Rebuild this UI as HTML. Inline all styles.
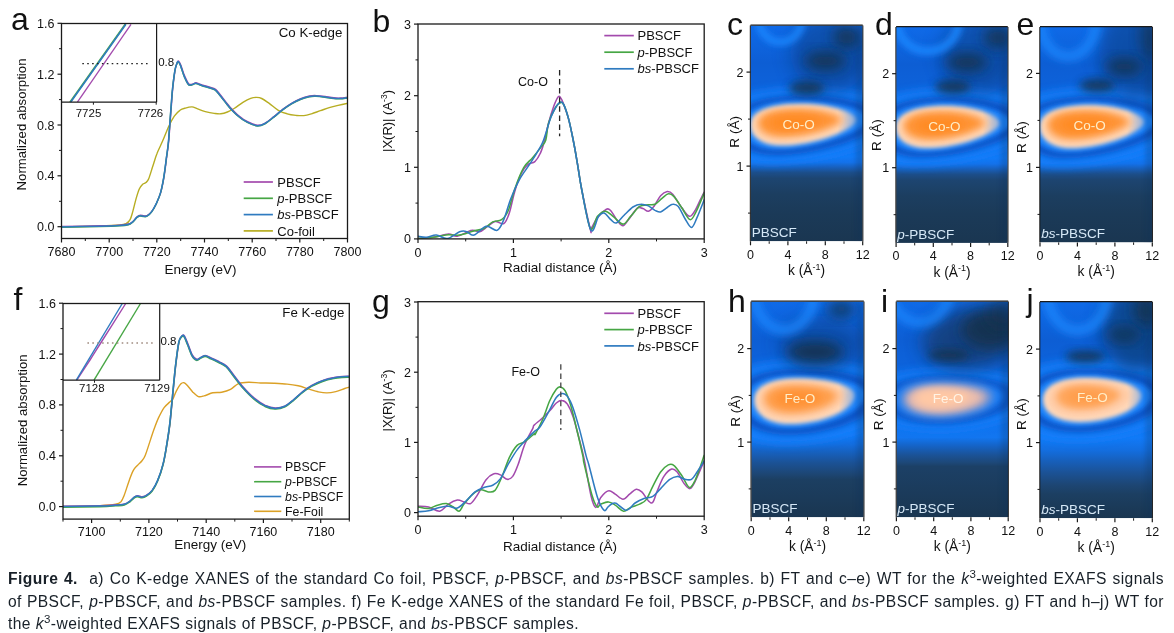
<!DOCTYPE html>
<html><head><meta charset="utf-8"><title>Figure 4</title>
<style>
html,body{margin:0;padding:0;background:#fff;}
body{width:1174px;height:633px;overflow:hidden;position:relative;font-family:"Liberation Sans",sans-serif;}
svg{position:absolute;left:0;top:0;}
svg text{font-family:"Liberation Sans",sans-serif;}
.cap{position:absolute;left:8px;width:1156px;color:#182028;font-size:15.6px;line-height:20px;white-space:nowrap;letter-spacing:0.43px;}
.cap b{font-weight:bold;}
.cap sup{font-size:11.5px;vertical-align:baseline;position:relative;top:-6.3px;line-height:0;}
.just{text-align:justify;text-align-last:justify;white-space:normal;}

</style></head><body>
<svg width="1174" height="633" viewBox="0 0 1174 633">
<defs>
<filter id="bl1" x="-50%" y="-50%" width="200%" height="200%"><feGaussianBlur stdDeviation="1.2"/></filter>
<filter id="bl2" x="-50%" y="-50%" width="200%" height="200%"><feGaussianBlur stdDeviation="2.2"/></filter>
<filter id="bl3" x="-50%" y="-50%" width="200%" height="200%"><feGaussianBlur stdDeviation="3.2"/></filter>
<filter id="bl4" x="-50%" y="-50%" width="200%" height="200%"><feGaussianBlur stdDeviation="4.5"/></filter>
<filter id="bl6" x="-50%" y="-50%" width="200%" height="200%"><feGaussianBlur stdDeviation="6.5"/></filter>
<filter id="bl9" x="-50%" y="-50%" width="200%" height="200%"><feGaussianBlur stdDeviation="9"/></filter>

</defs>
<clipPath id="ca"><rect x="61.5" y="23.5" width="286.0" height="215.0"/></clipPath>
<g clip-path="url(#ca)">
<path d="M61.5,226.9C67.8,226.8 89.9,226.4 99.6,226.1C109.2,225.7 115.0,225.4 119.5,225.0C123.9,224.6 124.3,224.5 126.1,223.6C127.9,222.7 129.0,221.6 130.1,219.6C131.2,217.7 131.7,215.4 132.7,211.9C133.7,208.4 135.0,202.5 136.1,198.6C137.2,194.8 138.3,191.1 139.4,188.7C140.5,186.3 141.6,185.3 142.7,184.2C143.8,183.2 145.0,183.4 146.0,182.5C147.0,181.6 147.6,181.4 148.7,178.7C149.8,176.1 151.3,170.8 152.7,166.5C154.1,162.3 155.4,157.5 157.1,153.3C158.7,149.0 160.7,145.6 162.6,141.1C164.6,136.6 166.9,130.3 168.8,126.2C170.8,122.1 172.5,118.9 174.3,116.2C176.2,113.6 178.0,111.6 179.9,110.3C181.7,108.9 183.4,108.6 185.4,108.1C187.4,107.5 190.0,106.8 192.0,106.9C194.1,107.1 195.4,108.2 197.6,108.9C199.8,109.7 202.5,110.9 205.3,111.6C208.1,112.3 211.6,113.0 214.2,113.4C216.7,113.7 218.6,114.0 220.8,113.8C223.0,113.6 225.2,112.9 227.4,112.0C229.6,111.2 231.5,110.1 234.1,108.5C236.7,106.9 240.2,104.0 242.9,102.3C245.7,100.6 248.5,99.1 250.7,98.3C252.9,97.5 254.4,97.4 256.2,97.4C258.0,97.5 259.5,97.5 261.7,98.5C263.9,99.6 266.7,101.7 269.5,103.6C272.2,105.6 275.4,108.6 278.3,110.3C281.3,112.0 284.2,113.0 287.2,113.8C290.1,114.7 293.3,115.1 296.0,115.4C298.8,115.6 301.2,115.8 303.8,115.6C306.3,115.3 308.7,114.6 311.5,113.8C314.3,113.0 317.4,111.7 320.4,110.7C323.3,109.7 326.3,108.5 329.2,107.6C332.2,106.7 334.9,106.1 338.1,105.4C341.2,104.7 346.3,103.6 348.0,103.2" fill="none" stroke="#b7ad22" stroke-width="1.4" stroke-linejoin="round" stroke-linecap="round" />
<path d="M61.8,226.4C68.1,226.3 90.2,226.0 99.9,225.8C109.5,225.6 115.0,225.4 119.8,225.1C124.6,224.8 126.4,224.6 128.6,224.0C130.8,223.4 131.6,222.5 133.0,221.4C134.4,220.2 135.8,218.0 137.0,216.9C138.2,215.9 138.9,215.3 140.1,215.2C141.3,215.0 142.9,215.8 144.1,215.8C145.3,215.9 146.1,216.1 147.4,215.4C148.7,214.6 150.4,213.4 151.8,211.4C153.3,209.4 154.8,206.8 156.3,203.7C157.7,200.5 159.4,197.0 160.7,192.6C162.0,188.2 163.0,183.0 164.0,177.1C165.0,171.2 165.9,163.5 166.7,157.2C167.5,150.9 167.9,150.3 168.9,139.5C169.8,128.7 171.4,104.0 172.4,92.5C173.5,81.0 174.3,75.4 175.1,70.4C175.9,65.4 176.7,64.2 177.3,62.6C177.9,61.1 178.0,60.7 178.6,61.1C179.2,61.5 179.8,62.4 180.8,64.9C181.8,67.3 183.2,72.7 184.6,75.9C186.0,79.1 187.5,82.8 189.0,84.1C190.5,85.4 192.3,83.9 193.4,83.7C194.6,83.4 194.6,82.6 196.1,82.8C197.6,83.0 200.0,84.2 202.3,85.0C204.6,85.7 207.8,86.5 210.0,87.2C212.2,87.9 213.7,88.0 215.6,89.4C217.4,90.8 218.7,92.9 221.1,95.8C223.5,98.7 227.0,103.6 229.9,106.9C232.9,110.2 235.8,113.3 238.8,115.7C241.7,118.2 244.5,120.1 247.6,121.7C250.8,123.3 254.7,125.0 257.6,125.3C260.6,125.5 262.6,124.5 265.3,123.0C268.1,121.6 271.2,118.7 274.2,116.4C277.1,114.1 280.1,111.3 283.0,109.1C286.0,106.9 288.9,104.9 291.9,103.1C294.8,101.4 297.8,99.9 300.7,98.7C303.7,97.5 307.0,96.6 309.6,96.0C312.2,95.5 313.6,95.5 316.2,95.6C318.8,95.7 322.1,96.1 325.1,96.5C328.0,96.9 331.3,97.6 333.9,97.8C336.5,98.1 338.2,98.2 340.6,98.0C343.0,97.9 347.0,97.3 348.3,97.2" fill="none" stroke="#a34aad" stroke-width="1.4" stroke-linejoin="round" stroke-linecap="round" />
<path d="M61.5,227.2C67.8,227.1 89.9,226.8 99.6,226.6C109.2,226.4 114.7,226.2 119.5,225.9C124.3,225.6 126.1,225.4 128.3,224.8C130.5,224.2 131.3,223.3 132.7,222.2C134.1,221.0 135.5,218.8 136.7,217.7C137.9,216.7 138.6,216.1 139.8,216.0C141.0,215.8 142.6,216.6 143.8,216.6C145.0,216.7 145.8,216.9 147.1,216.2C148.4,215.4 150.1,214.2 151.5,212.2C153.0,210.2 154.5,207.6 156.0,204.5C157.4,201.3 159.1,197.8 160.4,193.4C161.7,189.0 162.7,183.8 163.7,177.9C164.7,172.0 165.6,164.3 166.4,158.0C167.2,151.7 167.6,151.1 168.6,140.3C169.5,129.5 171.1,104.8 172.1,93.3C173.2,81.8 174.0,76.2 174.8,71.2C175.6,66.2 176.4,65.0 177.0,63.4C177.6,61.9 177.7,61.5 178.3,61.9C178.9,62.3 179.5,63.2 180.5,65.7C181.5,68.1 182.9,73.5 184.3,76.7C185.7,79.9 187.2,83.6 188.7,84.9C190.2,86.2 192.0,84.7 193.1,84.5C194.3,84.2 194.3,83.4 195.8,83.6C197.3,83.8 199.7,85.0 202.0,85.8C204.3,86.5 207.5,87.3 209.7,88.0C211.9,88.7 213.4,88.8 215.3,90.2C217.1,91.6 218.4,93.7 220.8,96.6C223.2,99.5 226.7,104.4 229.6,107.7C232.6,111.0 235.5,114.1 238.5,116.5C241.4,119.0 244.2,120.9 247.3,122.5C250.5,124.1 254.4,125.8 257.3,126.1C260.3,126.3 262.3,125.3 265.0,123.8C267.8,122.4 270.9,119.5 273.9,117.2C276.8,114.9 279.8,112.1 282.7,109.9C285.7,107.7 288.6,105.7 291.6,103.9C294.5,102.2 297.5,100.7 300.4,99.5C303.4,98.3 306.7,97.4 309.3,96.8C311.9,96.3 313.3,96.3 315.9,96.4C318.5,96.5 321.8,96.9 324.8,97.3C327.7,97.7 331.0,98.4 333.6,98.6C336.2,98.9 337.9,99.0 340.3,98.8C342.7,98.7 346.7,98.1 348.0,98.0" fill="none" stroke="#46a644" stroke-width="1.4" stroke-linejoin="round" stroke-linecap="round" />
<path d="M61.5,226.9C67.8,226.8 89.9,226.5 99.6,226.3C109.2,226.1 114.7,225.9 119.5,225.6C124.3,225.3 126.1,225.1 128.3,224.5C130.5,223.9 131.3,223.0 132.7,221.9C134.1,220.7 135.5,218.5 136.7,217.4C137.9,216.4 138.6,215.8 139.8,215.7C141.0,215.5 142.6,216.3 143.8,216.3C145.0,216.4 145.8,216.6 147.1,215.9C148.4,215.1 150.1,213.9 151.5,211.9C153.0,209.9 154.5,207.3 156.0,204.2C157.4,201.0 159.1,197.5 160.4,193.1C161.7,188.7 162.7,183.5 163.7,177.6C164.7,171.7 165.6,164.0 166.4,157.7C167.2,151.4 167.6,150.8 168.6,140.0C169.5,129.2 171.1,104.5 172.1,93.0C173.2,81.5 174.0,75.9 174.8,70.9C175.6,65.9 176.4,64.7 177.0,63.1C177.6,61.6 177.7,61.2 178.3,61.6C178.9,62.0 179.5,62.9 180.5,65.4C181.5,67.8 182.9,73.2 184.3,76.4C185.7,79.6 187.2,83.3 188.7,84.6C190.2,85.9 192.0,84.4 193.1,84.2C194.3,83.9 194.3,83.1 195.8,83.3C197.3,83.5 199.7,84.7 202.0,85.5C204.3,86.2 207.5,87.0 209.7,87.7C211.9,88.4 213.4,88.5 215.3,89.9C217.1,91.3 218.4,93.4 220.8,96.3C223.2,99.2 226.7,104.1 229.6,107.4C232.6,110.7 235.5,113.8 238.5,116.2C241.4,118.7 244.2,120.6 247.3,122.2C250.5,123.8 254.4,125.5 257.3,125.8C260.3,126.0 262.3,125.0 265.0,123.5C267.8,122.1 270.9,119.2 273.9,116.9C276.8,114.6 279.8,111.8 282.7,109.6C285.7,107.4 288.6,105.4 291.6,103.6C294.5,101.9 297.5,100.4 300.4,99.2C303.4,98.0 306.7,97.1 309.3,96.5C311.9,96.0 313.3,96.0 315.9,96.1C318.5,96.2 321.8,96.6 324.8,97.0C327.7,97.4 331.0,98.1 333.6,98.3C336.2,98.6 337.9,98.7 340.3,98.5C342.7,98.4 346.7,97.8 348.0,97.7" fill="none" stroke="#2f7bc0" stroke-width="1.5" stroke-linejoin="round" stroke-linecap="round" />
</g>
<clipPath id="cai"><rect x="61.5" y="23.5" width="95.1" height="78.7"/></clipPath>
<g clip-path="url(#cai)">
<line x1="77.4" y1="102.2" x2="131.0" y2="24.3" stroke="#a34aad" stroke-width="1.3" />
<line x1="70.0" y1="102.2" x2="125.3" y2="24.3" stroke="#46a644" stroke-width="1.8" />
<line x1="70.6" y1="102.2" x2="125.9" y2="24.3" stroke="#2f7bc0" stroke-width="1.6" />
</g>
<line x1="82.3" y1="63.7" x2="150.8" y2="63.7" stroke="#222" stroke-width="1.2" stroke-dasharray="1.6 3.3"/>
<line x1="156.6" y1="23.5" x2="156.6" y2="102.2" stroke="#1a1a1a" stroke-width="1.2" />
<line x1="61.5" y1="102.2" x2="156.6" y2="102.2" stroke="#1a1a1a" stroke-width="1.2" />
<line x1="93.4" y1="102.2" x2="93.4" y2="104.7" stroke="#1a1a1a" stroke-width="1.0" />
<line x1="156.2" y1="102.2" x2="156.2" y2="104.7" stroke="#1a1a1a" stroke-width="1.0" />
<text x="88.5" y="116.8" font-size="11.5" text-anchor="middle" fill="#111" >7725</text>
<text x="150.4" y="116.8" font-size="11.5" text-anchor="middle" fill="#111" >7726</text>
<text x="158.2" y="66.0" font-size="11.5" text-anchor="start" fill="#111" >0.8</text>
<rect x="61.5" y="23.5" width="286.0" height="215.0" fill="none" stroke="#1a1a1a" stroke-width="1.3"/>
<line x1="57.5" y1="226.7" x2="61.5" y2="226.7" stroke="#1a1a1a" stroke-width="1.2" />
<text x="54.5" y="231.2" font-size="12.5" text-anchor="end" fill="#111" >0.0</text>
<line x1="57.5" y1="175.8" x2="61.5" y2="175.8" stroke="#1a1a1a" stroke-width="1.2" />
<text x="54.5" y="180.3" font-size="12.5" text-anchor="end" fill="#111" >0.4</text>
<line x1="57.5" y1="125.0" x2="61.5" y2="125.0" stroke="#1a1a1a" stroke-width="1.2" />
<text x="54.5" y="129.5" font-size="12.5" text-anchor="end" fill="#111" >0.8</text>
<line x1="57.5" y1="74.2" x2="61.5" y2="74.2" stroke="#1a1a1a" stroke-width="1.2" />
<text x="54.5" y="78.7" font-size="12.5" text-anchor="end" fill="#111" >1.2</text>
<line x1="57.5" y1="23.3" x2="61.5" y2="23.3" stroke="#1a1a1a" stroke-width="1.2" />
<text x="54.5" y="27.8" font-size="12.5" text-anchor="end" fill="#111" >1.6</text>
<line x1="59.0" y1="201.3" x2="61.5" y2="201.3" stroke="#1a1a1a" stroke-width="1.0" />
<line x1="59.0" y1="150.4" x2="61.5" y2="150.4" stroke="#1a1a1a" stroke-width="1.0" />
<line x1="59.0" y1="99.6" x2="61.5" y2="99.6" stroke="#1a1a1a" stroke-width="1.0" />
<line x1="59.0" y1="48.7" x2="61.5" y2="48.7" stroke="#1a1a1a" stroke-width="1.0" />
<line x1="61.5" y1="238.5" x2="61.5" y2="242.5" stroke="#1a1a1a" stroke-width="1.2" />
<text x="61.5" y="256.3" font-size="12.5" text-anchor="middle" fill="#111" >7680</text>
<line x1="109.2" y1="238.5" x2="109.2" y2="242.5" stroke="#1a1a1a" stroke-width="1.2" />
<text x="109.2" y="256.3" font-size="12.5" text-anchor="middle" fill="#111" >7700</text>
<line x1="156.8" y1="238.5" x2="156.8" y2="242.5" stroke="#1a1a1a" stroke-width="1.2" />
<text x="156.8" y="256.3" font-size="12.5" text-anchor="middle" fill="#111" >7720</text>
<line x1="204.5" y1="238.5" x2="204.5" y2="242.5" stroke="#1a1a1a" stroke-width="1.2" />
<text x="204.5" y="256.3" font-size="12.5" text-anchor="middle" fill="#111" >7740</text>
<line x1="252.2" y1="238.5" x2="252.2" y2="242.5" stroke="#1a1a1a" stroke-width="1.2" />
<text x="252.2" y="256.3" font-size="12.5" text-anchor="middle" fill="#111" >7760</text>
<line x1="299.8" y1="238.5" x2="299.8" y2="242.5" stroke="#1a1a1a" stroke-width="1.2" />
<text x="299.8" y="256.3" font-size="12.5" text-anchor="middle" fill="#111" >7780</text>
<line x1="347.5" y1="238.5" x2="347.5" y2="242.5" stroke="#1a1a1a" stroke-width="1.2" />
<text x="347.5" y="256.3" font-size="12.5" text-anchor="middle" fill="#111" >7800</text>
<line x1="85.3" y1="238.5" x2="85.3" y2="241.0" stroke="#1a1a1a" stroke-width="1.0" />
<line x1="133.0" y1="238.5" x2="133.0" y2="241.0" stroke="#1a1a1a" stroke-width="1.0" />
<line x1="180.7" y1="238.5" x2="180.7" y2="241.0" stroke="#1a1a1a" stroke-width="1.0" />
<line x1="228.3" y1="238.5" x2="228.3" y2="241.0" stroke="#1a1a1a" stroke-width="1.0" />
<line x1="276.0" y1="238.5" x2="276.0" y2="241.0" stroke="#1a1a1a" stroke-width="1.0" />
<line x1="323.7" y1="238.5" x2="323.7" y2="241.0" stroke="#1a1a1a" stroke-width="1.0" />
<text x="200.5" y="273.8" font-size="13.5" text-anchor="middle" fill="#111" >Energy (eV)</text>
<text transform="translate(25.5,124.5) rotate(-90)" font-size="13.2" text-anchor="middle" fill="#111">Normalized absorption</text>
<text x="342.3" y="36.8" font-size="13.3" text-anchor="end" fill="#111" >Co K-edge</text>
<text x="11.0" y="30.0" font-size="32" text-anchor="start" fill="#111" >a</text>
<line x1="243.7" y1="182.0" x2="272.9" y2="182.0" stroke="#a34aad" stroke-width="1.7" />
<text x="277.3" y="186.6" font-size="13" text-anchor="start" fill="#111" >PBSCF</text>
<line x1="243.7" y1="198.3" x2="272.9" y2="198.3" stroke="#46a644" stroke-width="1.7" />
<text x="277.3" y="202.9" font-size="13" text-anchor="start" fill="#111" ><tspan font-style="italic">p</tspan>-PBSCF</text>
<line x1="243.7" y1="214.6" x2="272.9" y2="214.6" stroke="#2f7bc0" stroke-width="1.7" />
<text x="277.3" y="219.2" font-size="13" text-anchor="start" fill="#111" ><tspan font-style="italic">bs</tspan>-PBSCF</text>
<line x1="243.7" y1="230.9" x2="272.9" y2="230.9" stroke="#b7ad22" stroke-width="1.7" />
<text x="277.3" y="235.5" font-size="13" text-anchor="start" fill="#111" >Co-foil</text>
<clipPath id="cb"><rect x="418" y="24" width="286.20000000000005" height="214.9"/></clipPath>
<g clip-path="url(#cb)">
<path d="M418.0,238.5C420.5,238.3 427.9,238.1 433.0,237.3C438.1,236.6 444.4,234.2 448.5,234.0C452.6,233.8 453.5,236.9 457.3,236.2C461.2,235.6 468.0,231.0 471.7,230.3C475.4,229.5 476.9,232.4 479.5,231.8C482.1,231.2 484.6,228.5 487.2,226.7C489.8,225.0 492.2,221.9 495.0,221.4C497.7,220.9 501.4,225.0 503.8,223.6C506.2,222.2 507.5,218.5 509.3,213.0C511.2,207.6 512.8,197.5 514.9,190.9C516.9,184.2 519.3,177.6 521.5,173.2C523.7,168.8 525.9,166.3 528.1,164.3C530.4,162.4 532.8,163.5 534.8,161.7C536.8,159.8 538.7,156.9 540.3,153.3C542.0,149.7 543.4,145.0 544.7,140.0C546.1,135.0 547.0,128.8 548.6,123.0C550.1,117.2 552.5,109.7 554.1,105.3C555.8,100.9 557.3,97.5 558.5,96.5C559.8,95.4 560.4,97.5 561.4,99.1C562.4,100.8 563.3,103.2 564.5,106.4C565.7,109.7 567.1,113.2 568.5,118.6C569.9,123.9 571.4,131.1 572.9,138.5C574.4,145.9 575.9,154.2 577.3,162.8C578.8,171.4 579.6,178.9 581.8,190.0C584.0,201.2 588.8,223.2 590.4,229.6C592.0,236.0 590.1,230.5 591.3,228.5C592.5,226.5 595.0,220.6 597.5,217.4C600.0,214.2 604.2,210.4 606.4,209.2C608.6,208.1 609.0,208.9 610.8,210.8C612.6,212.7 615.4,218.2 617.4,220.8C619.5,223.3 621.1,226.0 623.0,225.8C624.8,225.7 626.1,222.6 628.5,219.6C630.9,216.7 634.9,210.0 637.3,208.1C639.7,206.3 641.0,208.1 642.9,208.6C644.7,209.1 646.6,211.6 648.4,211.2C650.3,210.9 651.9,209.0 653.9,206.4C656.0,203.8 658.4,198.2 660.6,195.8C662.8,193.3 665.2,191.8 667.2,191.5C669.2,191.3 670.3,191.5 672.7,194.2C675.1,196.9 678.8,203.8 681.6,207.5C684.4,211.2 687.1,215.8 689.3,216.3C691.5,216.9 693.0,213.6 694.9,210.8C696.7,208.0 698.8,202.9 700.4,199.7C701.9,196.6 703.5,193.3 704.2,192.0" fill="none" stroke="#a34aad" stroke-width="1.55" stroke-linejoin="round" stroke-linecap="round" />
<path d="M418.0,238.5C420.8,238.2 430.1,237.5 435.2,236.9C440.3,236.3 444.4,235.0 448.5,234.7C452.6,234.4 455.5,235.7 459.6,235.1C463.6,234.5 468.8,232.3 472.8,231.2C476.9,230.0 480.6,230.0 483.9,228.5C487.2,226.9 489.8,223.3 492.7,221.9C495.7,220.4 499.0,221.5 501.6,219.6C504.2,217.8 506.0,216.0 508.2,210.8C510.4,205.6 512.3,195.9 514.9,188.7C517.4,181.5 520.8,172.8 523.7,167.7C526.7,162.5 529.6,161.2 532.6,157.7C535.5,154.2 539.2,149.6 541.4,146.6C543.6,143.7 544.6,143.9 545.8,140.0C547.0,136.1 547.0,128.3 548.6,123.0C550.1,117.7 553.2,111.4 555.2,108.0C557.2,104.5 559.3,102.9 560.8,102.4C562.2,102.0 562.8,102.6 564.1,105.3C565.4,108.0 567.0,113.1 568.5,118.6C570.0,124.1 571.4,131.1 572.9,138.5C574.4,145.9 575.9,154.2 577.3,162.8C578.8,171.4 579.6,179.1 581.8,190.0C584.0,201.0 587.8,224.1 590.4,228.5C593.1,232.9 595.1,219.2 597.5,216.3C600.0,213.5 602.7,211.2 605.3,211.2C607.8,211.2 610.1,214.2 613.0,216.3C616.0,218.5 620.0,224.1 623.0,224.1C625.9,224.1 627.9,219.3 630.7,216.3C633.5,213.4 636.6,208.3 639.6,206.4C642.5,204.5 645.8,205.2 648.4,204.8C651.0,204.5 652.8,205.2 655.0,204.2C657.3,203.1 659.5,200.4 661.7,198.6C663.9,196.9 666.3,194.1 668.3,193.8C670.3,193.4 671.6,194.1 673.8,196.4C676.1,198.7 678.9,203.6 681.6,207.5C684.3,211.3 687.6,218.9 690.0,219.6C692.4,220.4 693.6,216.3 696.0,211.9C698.3,207.5 702.8,196.2 704.2,193.1" fill="none" stroke="#46a644" stroke-width="1.55" stroke-linejoin="round" stroke-linecap="round" />
<path d="M418.0,236.2C419.4,236.4 423.3,237.5 426.4,237.3C429.4,237.2 432.8,234.9 436.3,235.1C439.8,235.3 443.5,239.0 447.4,238.5C451.3,237.9 456.4,233.0 459.6,231.8C462.7,230.6 463.8,230.8 466.2,231.4C468.6,231.9 470.6,236.0 473.9,235.1C477.3,234.3 482.2,227.1 486.1,226.3C490.0,225.5 494.2,231.4 497.2,230.3C500.1,229.2 501.6,224.7 503.8,219.6C506.0,214.6 507.9,206.4 510.4,199.7C513.0,193.1 516.0,185.9 519.3,179.8C522.6,173.7 527.0,168.4 530.4,163.2C533.7,158.1 537.0,152.7 539.2,148.8C541.4,145.0 541.7,145.2 543.6,140.0C545.6,134.8 548.7,123.1 550.8,117.5C552.9,111.9 554.7,109.0 556.3,106.4C558.0,103.8 559.5,102.2 560.8,102.0C562.0,101.8 562.8,102.5 564.1,105.3C565.4,108.1 567.0,113.1 568.5,118.6C570.0,124.1 571.4,131.1 572.9,138.5C574.4,145.9 575.9,154.2 577.3,162.8C578.8,171.4 579.5,178.8 581.8,190.0C584.0,201.3 588.1,225.9 590.9,230.3C593.7,234.6 596.4,219.2 598.6,216.3C600.8,213.5 602.1,212.5 604.2,213.0C606.2,213.6 608.8,218.0 610.8,219.6C612.8,221.3 614.1,223.7 616.3,223.0C618.5,222.2 621.3,217.9 624.1,215.2C626.8,212.6 630.2,208.9 632.9,207.0C635.7,205.2 638.1,204.3 640.7,204.2C643.2,204.0 646.0,204.9 648.4,205.9C650.8,207.0 653.0,209.4 655.0,210.4C657.1,211.3 658.5,212.4 660.6,211.9C662.6,211.4 665.2,208.8 667.2,207.5C669.2,206.2 670.9,204.3 672.7,204.2C674.6,204.0 676.2,204.0 678.3,206.4C680.3,208.8 682.7,215.0 684.9,218.5C687.1,222.0 689.5,227.6 691.5,227.4C693.6,227.2 695.0,222.0 697.1,217.4C699.2,212.8 703.0,202.7 704.2,199.7" fill="none" stroke="#2f7bc0" stroke-width="1.55" stroke-linejoin="round" stroke-linecap="round" />
</g>
<line x1="559.6" y1="69.9" x2="559.6" y2="136.3" stroke="#222" stroke-width="1.3" stroke-dasharray="5.5 3.6"/>
<text x="518.0" y="85.8" font-size="12.5" text-anchor="start" fill="#111" >Co-O</text>
<rect x="418" y="24" width="286.20000000000005" height="214.9" fill="none" stroke="#1a1a1a" stroke-width="1.3"/>
<line x1="414.0" y1="238.9" x2="418.0" y2="238.9" stroke="#1a1a1a" stroke-width="1.2" />
<text x="411.0" y="243.4" font-size="12.5" text-anchor="end" fill="#111" >0</text>
<line x1="418.0" y1="238.9" x2="418.0" y2="242.9" stroke="#1a1a1a" stroke-width="1.2" />
<text x="418.0" y="257.0" font-size="12.5" text-anchor="middle" fill="#111" >0</text>
<line x1="414.0" y1="167.3" x2="418.0" y2="167.3" stroke="#1a1a1a" stroke-width="1.2" />
<text x="411.0" y="171.8" font-size="12.5" text-anchor="end" fill="#111" >1</text>
<line x1="513.4" y1="238.9" x2="513.4" y2="242.9" stroke="#1a1a1a" stroke-width="1.2" />
<text x="513.4" y="257.0" font-size="12.5" text-anchor="middle" fill="#111" >1</text>
<line x1="414.0" y1="95.7" x2="418.0" y2="95.7" stroke="#1a1a1a" stroke-width="1.2" />
<text x="411.0" y="100.2" font-size="12.5" text-anchor="end" fill="#111" >2</text>
<line x1="608.8" y1="238.9" x2="608.8" y2="242.9" stroke="#1a1a1a" stroke-width="1.2" />
<text x="608.8" y="257.0" font-size="12.5" text-anchor="middle" fill="#111" >2</text>
<line x1="414.0" y1="24.1" x2="418.0" y2="24.1" stroke="#1a1a1a" stroke-width="1.2" />
<text x="411.0" y="28.6" font-size="12.5" text-anchor="end" fill="#111" >3</text>
<line x1="704.2" y1="238.9" x2="704.2" y2="242.9" stroke="#1a1a1a" stroke-width="1.2" />
<text x="704.2" y="257.0" font-size="12.5" text-anchor="middle" fill="#111" >3</text>
<line x1="415.5" y1="203.1" x2="418.0" y2="203.1" stroke="#1a1a1a" stroke-width="1.0" />
<line x1="465.7" y1="238.9" x2="465.7" y2="241.4" stroke="#1a1a1a" stroke-width="1.0" />
<line x1="415.5" y1="131.5" x2="418.0" y2="131.5" stroke="#1a1a1a" stroke-width="1.0" />
<line x1="561.1" y1="238.9" x2="561.1" y2="241.4" stroke="#1a1a1a" stroke-width="1.0" />
<line x1="415.5" y1="59.9" x2="418.0" y2="59.9" stroke="#1a1a1a" stroke-width="1.0" />
<line x1="656.5" y1="238.9" x2="656.5" y2="241.4" stroke="#1a1a1a" stroke-width="1.0" />
<text x="560.0" y="272.2" font-size="13.5" text-anchor="middle" fill="#111" >Radial distance (Å)</text>
<text transform="translate(392,121) rotate(-90)" font-size="13" text-anchor="middle" fill="#111">|X(R)| (A<tspan font-size="8.5" dy="-5">-3</tspan><tspan dy="5">)</tspan></text>
<text x="372.5" y="32.0" font-size="32" text-anchor="start" fill="#111" >b</text>
<line x1="604.3" y1="35.6" x2="633.8" y2="35.6" stroke="#a34aad" stroke-width="1.7" />
<text x="637.5" y="40.2" font-size="13" text-anchor="start" fill="#111" >PBSCF</text>
<line x1="604.3" y1="52.2" x2="633.8" y2="52.2" stroke="#46a644" stroke-width="1.7" />
<text x="637.5" y="56.8" font-size="13" text-anchor="start" fill="#111" ><tspan font-style="italic">p</tspan>-PBSCF</text>
<line x1="604.3" y1="68.8" x2="633.8" y2="68.8" stroke="#2f7bc0" stroke-width="1.7" />
<text x="637.5" y="73.4" font-size="13" text-anchor="start" fill="#111" ><tspan font-style="italic">bs</tspan>-PBSCF</text>
<clipPath id="cf"><rect x="63" y="303.5" width="286.3" height="215.60000000000002"/></clipPath>
<g clip-path="url(#cf)">
<path d="M62.4,506.5C68.7,506.4 91.2,506.0 100.0,505.6C108.8,505.3 112.0,505.0 115.5,504.3C119.0,503.6 119.5,503.2 121.0,501.7C122.5,500.1 123.0,498.3 124.3,495.0C125.6,491.7 127.3,485.8 128.8,481.7C130.2,477.7 131.7,473.5 133.2,470.7C134.7,467.9 136.1,466.8 137.6,465.2C139.1,463.5 140.7,462.4 142.0,460.7C143.3,459.1 144.1,458.3 145.3,455.2C146.6,452.1 148.3,446.4 149.8,441.9C151.2,437.5 152.7,432.7 154.2,428.7C155.7,424.6 157.0,421.1 158.6,417.6C160.3,414.1 162.3,410.2 164.1,407.6C166.0,405.1 168.2,403.6 169.7,402.1C171.1,400.6 171.9,400.6 173.0,398.8C174.1,397.0 175.0,393.5 176.3,391.1C177.6,388.6 179.4,385.4 180.7,384.0C182.0,382.6 182.9,382.4 184.1,382.7C185.2,382.9 185.9,383.9 187.4,385.5C188.8,387.1 191.1,390.3 192.9,392.2C194.7,394.0 196.6,396.0 198.4,396.6C200.3,397.2 201.6,396.6 204.0,395.9C206.4,395.3 209.9,393.5 212.8,392.8C215.8,392.2 218.7,392.8 221.7,392.2C224.6,391.6 227.7,390.7 230.5,389.3C233.3,387.9 235.5,384.8 238.5,383.6C241.5,382.5 244.8,382.4 248.5,382.3C252.1,382.2 256.4,382.8 260.6,383.0C264.9,383.1 269.5,383.0 273.9,383.2C278.3,383.4 283.1,383.6 287.2,384.1C291.2,384.5 294.5,385.0 298.2,385.8C301.9,386.7 306.0,388.2 309.3,389.2C312.6,390.2 315.2,391.2 318.1,391.8C321.1,392.4 324.0,393.0 327.0,392.9C329.9,392.9 332.9,392.3 335.8,391.6C338.8,390.9 342.5,389.2 344.7,388.5C346.9,387.8 348.4,387.4 349.1,387.2" fill="none" stroke="#dba126" stroke-width="1.4" stroke-linejoin="round" stroke-linecap="round" />
<path d="M62.7,506.1C69.0,506.0 91.5,505.9 100.3,505.7C109.1,505.5 111.7,505.1 115.8,504.8C119.8,504.5 122.2,504.6 124.6,503.9C127.0,503.2 128.5,502.0 130.2,500.8C131.8,499.6 133.3,497.7 134.6,496.8C135.9,496.0 136.6,495.7 137.9,495.7C139.2,495.7 140.9,496.9 142.3,496.8C143.8,496.7 145.1,496.2 146.7,495.1C148.4,494.0 150.4,492.7 152.3,490.2C154.1,487.7 156.0,484.7 157.8,480.2C159.7,475.8 161.9,469.4 163.3,463.7C164.8,457.9 165.6,452.6 166.7,446.0C167.8,439.3 169.1,431.2 170.0,423.8C170.9,416.5 171.2,411.4 172.2,401.7C173.1,392.1 174.6,376.0 175.7,366.0C176.9,356.0 178.0,346.7 179.1,341.6C180.2,336.5 181.5,336.4 182.4,335.4C183.3,334.5 183.7,334.7 184.6,336.1C185.5,337.5 186.6,340.7 187.9,343.8C189.2,347.0 190.9,352.3 192.3,354.9C193.8,357.5 195.3,359.0 196.8,359.3C198.2,359.7 199.7,357.8 201.2,357.1C202.7,356.5 204.0,355.2 205.6,355.4C207.3,355.5 208.9,356.8 211.1,357.8C213.4,358.8 216.3,360.2 218.9,361.5C221.5,362.9 224.0,363.6 226.6,366.0C229.2,368.4 231.6,372.4 234.4,375.9C237.1,379.4 239.9,383.3 243.2,387.0C246.5,390.7 250.6,395.0 254.3,398.1C258.0,401.1 261.8,403.7 265.3,405.4C268.8,407.0 272.0,407.9 275.3,408.0C278.6,408.1 282.1,407.3 285.3,405.8C288.4,404.3 291.2,401.6 294.1,399.2C297.1,396.8 300.0,393.7 303.0,391.4C305.9,389.1 308.5,387.3 311.8,385.4C315.1,383.6 319.2,381.7 322.9,380.4C326.6,379.0 330.6,378.1 333.9,377.5C337.2,376.8 340.2,376.6 342.8,376.4C345.4,376.1 348.3,376.2 349.4,376.1" fill="none" stroke="#a34aad" stroke-width="1.4" stroke-linejoin="round" stroke-linecap="round" />
<path d="M62.4,507.1C68.7,507.0 91.2,506.9 100.0,506.7C108.8,506.5 111.4,506.1 115.5,505.8C119.5,505.5 121.9,505.6 124.3,504.9C126.7,504.2 128.2,503.0 129.9,501.8C131.5,500.6 133.0,498.7 134.3,497.8C135.6,497.0 136.3,496.7 137.6,496.7C138.9,496.7 140.6,497.9 142.0,497.8C143.5,497.7 144.8,497.2 146.4,496.1C148.1,495.0 150.1,493.7 152.0,491.2C153.8,488.7 155.7,485.7 157.5,481.2C159.4,476.8 161.6,470.4 163.0,464.7C164.5,458.9 165.3,453.6 166.4,447.0C167.5,440.3 168.8,432.2 169.7,424.8C170.6,417.5 170.9,412.4 171.9,402.7C172.8,393.1 174.3,377.0 175.4,367.0C176.6,357.0 177.7,347.7 178.8,342.6C179.9,337.5 181.2,337.4 182.1,336.4C183.0,335.5 183.4,335.7 184.3,337.1C185.2,338.5 186.3,341.7 187.6,344.8C188.9,348.0 190.6,353.3 192.0,355.9C193.5,358.5 195.0,360.0 196.5,360.3C197.9,360.7 199.4,358.8 200.9,358.1C202.4,357.5 203.7,356.2 205.3,356.4C207.0,356.5 208.6,357.8 210.8,358.8C213.1,359.8 216.0,361.2 218.6,362.5C221.2,363.9 223.7,364.6 226.3,367.0C228.9,369.4 231.3,373.4 234.1,376.9C236.8,380.4 239.6,384.3 242.9,388.0C246.2,391.7 250.3,396.0 254.0,399.1C257.7,402.1 261.5,404.7 265.0,406.4C268.5,408.0 271.7,408.9 275.0,409.0C278.3,409.1 281.8,408.3 285.0,406.8C288.1,405.3 290.9,402.6 293.8,400.2C296.8,397.8 299.7,394.7 302.7,392.4C305.6,390.1 308.2,388.3 311.5,386.4C314.8,384.6 318.9,382.7 322.6,381.4C326.3,380.0 330.3,379.1 333.6,378.5C336.9,377.8 339.9,377.6 342.5,377.4C345.1,377.1 348.0,377.2 349.1,377.1" fill="none" stroke="#46a644" stroke-width="1.6" stroke-linejoin="round" stroke-linecap="round" />
<path d="M62.4,506.5C68.7,506.4 91.2,506.3 100.0,506.1C108.8,505.9 111.4,505.5 115.5,505.2C119.5,504.9 121.9,505.0 124.3,504.3C126.7,503.6 128.2,502.4 129.9,501.2C131.5,500.0 133.0,498.1 134.3,497.2C135.6,496.4 136.3,496.1 137.6,496.1C138.9,496.1 140.6,497.3 142.0,497.2C143.5,497.1 144.8,496.6 146.4,495.5C148.1,494.4 150.1,493.1 152.0,490.6C153.8,488.1 155.7,485.1 157.5,480.6C159.4,476.2 161.6,469.8 163.0,464.1C164.5,458.3 165.3,453.0 166.4,446.4C167.5,439.7 168.8,431.6 169.7,424.2C170.6,416.9 170.9,411.8 171.9,402.1C172.8,392.5 174.3,376.4 175.4,366.4C176.6,356.4 177.7,347.1 178.8,342.0C179.9,336.9 181.2,336.8 182.1,335.8C183.0,334.9 183.4,335.1 184.3,336.5C185.2,337.9 186.3,341.1 187.6,344.2C188.9,347.4 190.6,352.7 192.0,355.3C193.5,357.9 195.0,359.4 196.5,359.7C197.9,360.1 199.4,358.2 200.9,357.5C202.4,356.9 203.7,355.6 205.3,355.8C207.0,355.9 208.6,357.2 210.8,358.2C213.1,359.2 216.0,360.6 218.6,361.9C221.2,363.3 223.7,364.0 226.3,366.4C228.9,368.8 231.3,372.8 234.1,376.3C236.8,379.8 239.6,383.7 242.9,387.4C246.2,391.1 250.3,395.4 254.0,398.5C257.7,401.5 261.5,404.1 265.0,405.8C268.5,407.4 271.7,408.3 275.0,408.4C278.3,408.5 281.8,407.7 285.0,406.2C288.1,404.7 290.9,402.0 293.8,399.6C296.8,397.2 299.7,394.1 302.7,391.8C305.6,389.5 308.2,387.7 311.5,385.8C314.8,384.0 318.9,382.1 322.6,380.8C326.3,379.4 330.3,378.5 333.6,377.9C336.9,377.2 339.9,377.0 342.5,376.8C345.1,376.5 348.0,376.6 349.1,376.5" fill="none" stroke="#2f7bc0" stroke-width="1.5" stroke-linejoin="round" stroke-linecap="round" />
</g>
<clipPath id="cfi"><rect x="63" y="303.5" width="96.69999999999999" height="76.69999999999999"/></clipPath>
<g clip-path="url(#cfi)">
<line x1="94.0" y1="380.2" x2="140.5" y2="303.5" stroke="#46a644" stroke-width="1.4" />
<path d="M76.8,380.2C79.0,376.8 85.8,366.5 90.0,360.0C94.2,353.5 96.0,350.4 102.0,341.0C108.0,331.6 121.8,309.8 125.7,303.5" fill="none" stroke="#a34aad" stroke-width="1.4" stroke-linejoin="round" stroke-linecap="round" />
<line x1="76.3" y1="380.2" x2="122.3" y2="303.5" stroke="#2f7bc0" stroke-width="1.4" />
</g>
<line x1="87.4" y1="343.0" x2="155.5" y2="343.0" stroke="#a08c80" stroke-width="1.3" stroke-dasharray="1.6 3.3"/>
<line x1="159.7" y1="303.5" x2="159.7" y2="380.2" stroke="#1a1a1a" stroke-width="1.2" />
<line x1="63.0" y1="380.2" x2="159.7" y2="380.2" stroke="#1a1a1a" stroke-width="1.2" />
<line x1="94.5" y1="380.2" x2="94.5" y2="382.7" stroke="#1a1a1a" stroke-width="1.0" />
<text x="91.8" y="392.3" font-size="11.5" text-anchor="middle" fill="#111" >7128</text>
<text x="157.0" y="392.3" font-size="11.5" text-anchor="middle" fill="#111" >7129</text>
<text x="160.5" y="344.6" font-size="11.5" text-anchor="start" fill="#111" >0.8</text>
<rect x="63" y="303.5" width="286.3" height="215.60000000000002" fill="none" stroke="#1a1a1a" stroke-width="1.3"/>
<line x1="59.0" y1="506.6" x2="63.0" y2="506.6" stroke="#1a1a1a" stroke-width="1.2" />
<text x="56.0" y="511.1" font-size="12.5" text-anchor="end" fill="#111" >0.0</text>
<line x1="59.0" y1="455.8" x2="63.0" y2="455.8" stroke="#1a1a1a" stroke-width="1.2" />
<text x="56.0" y="460.2" font-size="12.5" text-anchor="end" fill="#111" >0.4</text>
<line x1="59.0" y1="404.9" x2="63.0" y2="404.9" stroke="#1a1a1a" stroke-width="1.2" />
<text x="56.0" y="409.4" font-size="12.5" text-anchor="end" fill="#111" >0.8</text>
<line x1="59.0" y1="354.1" x2="63.0" y2="354.1" stroke="#1a1a1a" stroke-width="1.2" />
<text x="56.0" y="358.6" font-size="12.5" text-anchor="end" fill="#111" >1.2</text>
<line x1="59.0" y1="303.2" x2="63.0" y2="303.2" stroke="#1a1a1a" stroke-width="1.2" />
<text x="56.0" y="307.7" font-size="12.5" text-anchor="end" fill="#111" >1.6</text>
<line x1="60.5" y1="481.2" x2="63.0" y2="481.2" stroke="#1a1a1a" stroke-width="1.0" />
<line x1="60.5" y1="430.3" x2="63.0" y2="430.3" stroke="#1a1a1a" stroke-width="1.0" />
<line x1="60.5" y1="379.5" x2="63.0" y2="379.5" stroke="#1a1a1a" stroke-width="1.0" />
<line x1="60.5" y1="328.6" x2="63.0" y2="328.6" stroke="#1a1a1a" stroke-width="1.0" />
<line x1="91.6" y1="519.1" x2="91.6" y2="523.1" stroke="#1a1a1a" stroke-width="1.2" />
<text x="91.6" y="535.9" font-size="12.5" text-anchor="middle" fill="#111" >7100</text>
<line x1="148.9" y1="519.1" x2="148.9" y2="523.1" stroke="#1a1a1a" stroke-width="1.2" />
<text x="148.9" y="535.9" font-size="12.5" text-anchor="middle" fill="#111" >7120</text>
<line x1="206.2" y1="519.1" x2="206.2" y2="523.1" stroke="#1a1a1a" stroke-width="1.2" />
<text x="206.2" y="535.9" font-size="12.5" text-anchor="middle" fill="#111" >7140</text>
<line x1="263.4" y1="519.1" x2="263.4" y2="523.1" stroke="#1a1a1a" stroke-width="1.2" />
<text x="263.4" y="535.9" font-size="12.5" text-anchor="middle" fill="#111" >7160</text>
<line x1="320.7" y1="519.1" x2="320.7" y2="523.1" stroke="#1a1a1a" stroke-width="1.2" />
<text x="320.7" y="535.9" font-size="12.5" text-anchor="middle" fill="#111" >7180</text>
<line x1="63.0" y1="519.1" x2="63.0" y2="521.6" stroke="#1a1a1a" stroke-width="1.0" />
<line x1="120.3" y1="519.1" x2="120.3" y2="521.6" stroke="#1a1a1a" stroke-width="1.0" />
<line x1="177.5" y1="519.1" x2="177.5" y2="521.6" stroke="#1a1a1a" stroke-width="1.0" />
<line x1="234.8" y1="519.1" x2="234.8" y2="521.6" stroke="#1a1a1a" stroke-width="1.0" />
<line x1="292.0" y1="519.1" x2="292.0" y2="521.6" stroke="#1a1a1a" stroke-width="1.0" />
<line x1="349.3" y1="519.1" x2="349.3" y2="521.6" stroke="#1a1a1a" stroke-width="1.0" />
<text x="210.3" y="549.0" font-size="13.5" text-anchor="middle" fill="#111" >Energy (eV)</text>
<text transform="translate(26.5,420.4) rotate(-90)" font-size="13.2" text-anchor="middle" fill="#111">Normalized absorption</text>
<text x="344.4" y="316.8" font-size="13.3" text-anchor="end" fill="#111" >Fe K-edge</text>
<text x="13.5" y="310.0" font-size="32" text-anchor="start" fill="#111" >f</text>
<line x1="254.1" y1="466.9" x2="281.3" y2="466.9" stroke="#a34aad" stroke-width="1.6" />
<text x="285.1" y="471.3" font-size="12.3" text-anchor="start" fill="#111" >PBSCF</text>
<line x1="254.1" y1="481.7" x2="281.3" y2="481.7" stroke="#46a644" stroke-width="1.6" />
<text x="285.1" y="486.1" font-size="12.3" text-anchor="start" fill="#111" ><tspan font-style="italic">p</tspan>-PBSCF</text>
<line x1="254.1" y1="496.5" x2="281.3" y2="496.5" stroke="#2f7bc0" stroke-width="1.6" />
<text x="285.1" y="500.9" font-size="12.3" text-anchor="start" fill="#111" ><tspan font-style="italic">bs</tspan>-PBSCF</text>
<line x1="254.1" y1="511.3" x2="281.3" y2="511.3" stroke="#dba126" stroke-width="1.6" />
<text x="285.1" y="515.7" font-size="12.3" text-anchor="start" fill="#111" >Fe-Foil</text>
<clipPath id="cg"><rect x="418" y="301.7" width="286.20000000000005" height="214.50000000000006"/></clipPath>
<g clip-path="url(#cg)">
<path d="M418.0,506.3C419.7,506.4 425.0,506.1 428.6,506.9C432.2,507.8 436.3,511.6 439.6,511.2C443.0,510.7 445.5,505.9 448.5,504.1C451.4,502.2 454.8,500.5 457.3,500.1C459.9,499.7 461.8,501.3 464.0,501.9C466.2,502.4 468.4,504.7 470.6,503.6C472.8,502.5 474.7,499.2 477.3,495.2C479.8,491.2 483.3,483.3 486.1,479.7C488.9,476.2 491.5,474.6 493.8,473.8C496.2,472.9 498.3,473.9 500.5,474.9C502.7,475.8 505.1,479.0 507.1,479.3C509.2,479.6 510.8,478.9 512.7,476.4C514.5,473.9 516.2,469.6 518.2,464.2C520.2,458.9 522.4,450.2 524.8,444.3C527.2,438.4 531.0,432.1 532.6,428.8C534.1,425.6 532.6,426.9 534.2,425.1C535.8,423.4 539.4,420.9 541.9,418.5C544.5,416.1 547.3,413.3 549.7,410.8C552.1,408.2 554.3,404.7 556.3,403.0C558.4,401.3 560.0,400.2 561.9,400.4C563.7,400.5 565.5,401.5 567.4,404.1C569.2,406.8 571.1,410.9 572.9,416.3C574.8,421.6 576.6,429.2 578.5,436.2C580.3,443.2 581.9,448.5 584.0,458.3C586.1,468.2 588.9,487.0 590.9,495.2C592.8,503.4 594.1,507.0 595.8,507.4C597.4,507.8 598.7,500.2 600.8,497.4C603.0,494.7 606.2,491.3 608.6,490.8C611.0,490.2 612.8,492.7 615.2,494.1C617.6,495.5 620.6,499.2 623.0,499.2C625.4,499.2 627.4,495.8 629.6,494.1C631.8,492.5 634.2,489.6 636.2,489.2C638.3,488.9 639.7,490.0 641.8,491.9C643.8,493.8 646.6,499.0 648.4,500.8C650.3,502.5 651.4,504.0 652.8,502.3C654.3,500.6 655.4,495.1 657.3,490.8C659.1,486.5 661.5,480.0 663.9,476.4C666.3,472.8 669.4,469.9 671.6,469.1C673.8,468.4 675.1,469.7 677.2,472.0C679.2,474.3 681.7,480.3 683.8,483.1C685.9,485.8 687.9,488.8 689.8,488.6C691.6,488.4 692.5,486.6 694.9,481.9C697.3,477.3 702.6,464.4 704.2,460.9" fill="none" stroke="#a34aad" stroke-width="1.55" stroke-linejoin="round" stroke-linecap="round" />
<path d="M418.0,506.9C419.7,507.2 425.3,508.8 428.6,508.5C431.8,508.2 434.5,506.0 437.4,505.2C440.4,504.4 443.7,503.4 446.3,503.6C448.9,503.9 450.8,505.5 452.9,506.7C455.1,508.0 457.3,511.6 459.1,511.2C461.0,510.7 461.7,506.9 464.0,504.1C466.3,501.2 470.1,496.5 472.8,494.1C475.6,491.7 478.0,490.1 480.6,489.7C483.2,489.3 485.9,491.8 488.3,491.9C490.7,492.0 492.7,492.8 495.0,490.4C497.2,488.0 499.2,483.0 501.6,477.5C504.0,472.1 506.8,463.0 509.3,457.6C511.9,452.3 514.5,448.1 517.1,445.4C519.7,442.8 521.9,443.7 524.8,441.7C527.8,439.7 533.0,434.6 534.8,433.3C536.5,432.0 533.9,436.4 535.3,434.0C536.7,431.5 540.7,424.0 543.1,418.5C545.4,413.0 547.5,405.7 549.7,400.8C551.9,395.9 554.6,391.6 556.3,389.3C558.1,387.0 558.6,386.6 560.1,386.9C561.6,387.1 563.4,387.8 565.2,390.8C566.9,393.9 568.7,398.4 570.7,405.2C572.7,412.0 575.3,423.3 577.3,431.8C579.4,440.3 581.7,450.7 582.9,456.1C584.0,461.5 582.7,457.7 584.2,464.2C585.8,470.8 589.9,488.1 592.0,495.2C594.1,502.3 595.6,505.3 597.1,506.7C598.6,508.2 598.9,504.9 600.8,504.1C602.8,503.3 606.2,501.7 608.6,501.9C611.0,502.0 612.7,503.6 615.2,505.2C617.7,506.7 621.0,510.8 623.6,511.2C626.2,511.5 628.1,508.6 630.7,507.4C633.4,506.2 637.0,505.4 639.6,504.1C642.1,502.8 644.0,502.6 646.2,499.6C648.4,496.7 650.4,491.0 652.8,486.4C655.2,481.8 658.0,475.6 660.6,472.0C663.2,468.4 666.1,466.0 668.3,464.9C670.5,463.8 671.6,463.6 673.8,465.4C676.1,467.1 679.0,471.6 681.6,475.3C684.2,479.0 687.1,486.6 689.3,487.5C691.5,488.4 693.0,484.3 694.9,480.8C696.7,477.3 698.8,470.7 700.4,466.5C701.9,462.2 703.5,457.2 704.2,455.4" fill="none" stroke="#46a644" stroke-width="1.55" stroke-linejoin="round" stroke-linecap="round" />
<path d="M418.0,511.8C419.7,511.6 425.0,511.4 428.6,510.7C432.2,510.0 436.3,508.1 439.6,507.4C443.0,506.7 445.5,506.2 448.5,506.3C451.4,506.4 454.4,509.0 457.3,508.1C460.3,507.1 463.2,503.4 466.2,500.8C469.1,498.1 472.1,494.1 475.0,491.9C478.0,489.7 480.9,488.6 483.9,487.5C486.8,486.4 490.0,486.7 492.7,485.3C495.5,483.8 497.9,482.1 500.5,478.6C503.1,475.1 505.5,469.0 508.2,464.2C511.0,459.5 514.1,453.9 517.1,449.9C520.0,445.8 523.0,443.0 525.9,439.9C528.9,436.8 532.5,433.2 534.8,431.1C537.1,429.0 537.4,430.5 539.7,427.3C542.0,424.1 545.8,416.8 548.6,411.9C551.3,406.9 554.0,400.5 556.3,397.5C558.6,394.4 560.5,393.7 562.3,393.5C564.1,393.3 565.6,394.0 567.4,396.4C569.2,398.7 570.9,401.9 572.9,407.4C574.9,413.0 577.3,421.4 579.6,429.6C581.8,437.7 584.7,450.3 586.2,456.1C587.7,461.9 586.8,457.4 588.7,464.2C590.6,471.1 594.9,489.8 597.5,497.4C600.1,505.1 602.3,508.8 604.2,510.3C606.0,511.7 606.7,507.5 608.6,506.3C610.4,505.1 612.3,502.3 615.2,503.0C618.2,503.6 623.0,510.3 626.3,510.3C629.6,510.3 632.2,504.9 635.1,503.0C638.1,501.0 641.0,499.6 644.0,498.5C646.9,497.4 650.1,498.0 652.8,496.3C655.6,494.7 657.8,491.3 660.6,488.6C663.3,485.8 666.7,481.8 669.4,479.7C672.2,477.7 674.6,476.5 677.2,476.4C679.7,476.3 682.5,478.8 684.9,479.3C687.3,479.8 689.5,480.5 691.5,479.3C693.6,478.1 695.0,475.1 697.1,472.0C699.2,468.9 703.0,462.8 704.2,460.9" fill="none" stroke="#2f7bc0" stroke-width="1.55" stroke-linejoin="round" stroke-linecap="round" />
</g>
<line x1="560.8" y1="364.3" x2="560.8" y2="430.0" stroke="#444" stroke-width="1.3" stroke-dasharray="5.5 3.6"/>
<text x="511.4" y="376.0" font-size="12.5" text-anchor="start" fill="#111" >Fe-O</text>
<rect x="418" y="301.7" width="286.20000000000005" height="214.50000000000006" fill="none" stroke="#1a1a1a" stroke-width="1.3"/>
<line x1="414.0" y1="512.6" x2="418.0" y2="512.6" stroke="#1a1a1a" stroke-width="1.2" />
<text x="411.0" y="517.1" font-size="12.5" text-anchor="end" fill="#111" >0</text>
<line x1="418.0" y1="516.2" x2="418.0" y2="520.2" stroke="#1a1a1a" stroke-width="1.2" />
<text x="418.0" y="533.8" font-size="12.5" text-anchor="middle" fill="#111" >0</text>
<line x1="414.0" y1="442.4" x2="418.0" y2="442.4" stroke="#1a1a1a" stroke-width="1.2" />
<text x="411.0" y="446.9" font-size="12.5" text-anchor="end" fill="#111" >1</text>
<line x1="513.4" y1="516.2" x2="513.4" y2="520.2" stroke="#1a1a1a" stroke-width="1.2" />
<text x="513.4" y="533.8" font-size="12.5" text-anchor="middle" fill="#111" >1</text>
<line x1="414.0" y1="372.2" x2="418.0" y2="372.2" stroke="#1a1a1a" stroke-width="1.2" />
<text x="411.0" y="376.7" font-size="12.5" text-anchor="end" fill="#111" >2</text>
<line x1="608.8" y1="516.2" x2="608.8" y2="520.2" stroke="#1a1a1a" stroke-width="1.2" />
<text x="608.8" y="533.8" font-size="12.5" text-anchor="middle" fill="#111" >2</text>
<line x1="414.0" y1="302.0" x2="418.0" y2="302.0" stroke="#1a1a1a" stroke-width="1.2" />
<text x="411.0" y="306.5" font-size="12.5" text-anchor="end" fill="#111" >3</text>
<line x1="704.2" y1="516.2" x2="704.2" y2="520.2" stroke="#1a1a1a" stroke-width="1.2" />
<text x="704.2" y="533.8" font-size="12.5" text-anchor="middle" fill="#111" >3</text>
<line x1="415.5" y1="477.5" x2="418.0" y2="477.5" stroke="#1a1a1a" stroke-width="1.0" />
<line x1="465.7" y1="516.2" x2="465.7" y2="518.7" stroke="#1a1a1a" stroke-width="1.0" />
<line x1="415.5" y1="407.3" x2="418.0" y2="407.3" stroke="#1a1a1a" stroke-width="1.0" />
<line x1="561.1" y1="516.2" x2="561.1" y2="518.7" stroke="#1a1a1a" stroke-width="1.0" />
<line x1="415.5" y1="337.1" x2="418.0" y2="337.1" stroke="#1a1a1a" stroke-width="1.0" />
<line x1="656.5" y1="516.2" x2="656.5" y2="518.7" stroke="#1a1a1a" stroke-width="1.0" />
<text x="560.0" y="550.5" font-size="13.5" text-anchor="middle" fill="#111" >Radial distance (Å)</text>
<text transform="translate(392,400.5) rotate(-90)" font-size="13" text-anchor="middle" fill="#111">|X(R)| (A<tspan font-size="8.5" dy="-5">-3</tspan><tspan dy="5">)</tspan></text>
<text x="372.0" y="312.0" font-size="32" text-anchor="start" fill="#111" >g</text>
<line x1="604.3" y1="313.3" x2="633.8" y2="313.3" stroke="#a34aad" stroke-width="1.7" />
<text x="637.5" y="317.9" font-size="13" text-anchor="start" fill="#111" >PBSCF</text>
<line x1="604.3" y1="329.6" x2="633.8" y2="329.6" stroke="#46a644" stroke-width="1.7" />
<text x="637.5" y="334.2" font-size="13" text-anchor="start" fill="#111" ><tspan font-style="italic">p</tspan>-PBSCF</text>
<line x1="604.3" y1="345.9" x2="633.8" y2="345.9" stroke="#2f7bc0" stroke-width="1.7" />
<text x="637.5" y="350.5" font-size="13" text-anchor="start" fill="#111" ><tspan font-style="italic">bs</tspan>-PBSCF</text>
<linearGradient id="hg1" x1="0" y1="0" x2="0" y2="1"><stop offset="-0.0014" stop-color="#0f6ae8"/><stop offset="0.1728" stop-color="#0d5ed4"/><stop offset="0.2816" stop-color="#0d62da"/><stop offset="0.5211" stop-color="#1070ee"/><stop offset="0.6082" stop-color="#127af7"/><stop offset="0.6343" stop-color="#1472ea"/><stop offset="0.6582" stop-color="#185fba"/><stop offset="0.6822" stop-color="#1c4e8a"/><stop offset="0.7083" stop-color="#1d4571"/><stop offset="0.7823" stop-color="#1c3e60"/><stop offset="0.8694" stop-color="#1b3a58"/><stop offset="1.0000" stop-color="#1a3651"/></linearGradient>
<clipPath id="hc1"><rect x="750.5" y="25.4" width="112.20000000000005" height="215.9"/></clipPath>
<g clip-path="url(#hc1)">
<rect x="750.5" y="25.4" width="112.20000000000005" height="215.9" fill="url(#hg1)"/>
<path d="M910.2,116.7C910.2,101.9 858.7,87.2 807.2,87.2C755.4,87.2 713.0,98.7 713.0,125.6C713.0,152.5 741.4,164.0 769.9,164.0C833.0,164.0 910.2,133.2 910.2,116.7Z" fill="#1880fb" opacity="0.9" filter="url(#bl4)"/>
<path d="M886.1,118.2C886.1,106.5 845.4,94.9 804.7,94.9C763.8,94.9 730.4,104.0 730.4,125.2C730.4,146.4 752.8,155.5 775.3,155.5C825.1,155.5 886.1,131.2 886.1,118.2Z" fill="#0b52c4" opacity="0.95" filter="url(#bl3)"/>
<path d="M868.0,119.2C868.0,109.8 834.9,100.3 801.8,100.3C768.6,100.3 741.4,107.7 741.4,124.9C741.4,142.2 759.6,149.6 777.9,149.6C818.4,149.6 868.0,129.8 868.0,119.2Z" fill="#1f86ff" opacity="0.95" filter="url(#bl2)"/>
<ellipse cx="830.0" cy="53.3" rx="39.3" ry="39.5" fill="#103f86" opacity="0.55" filter="url(#bl9)" transform="rotate(-20 830.0 53.3)"/>
<ellipse cx="846.8" cy="37.3" rx="14.0" ry="11.3" fill="#17324c" opacity="0.8" filter="url(#bl6)" transform="rotate(0 846.8 37.3)"/>
<ellipse cx="825.3" cy="60.8" rx="20.6" ry="9.4" fill="#17324c" opacity="0.85" filter="url(#bl6)" transform="rotate(0 825.3 60.8)"/>
<ellipse cx="806.6" cy="88.1" rx="17.8" ry="7.0" fill="#17324c" opacity="0.85" filter="url(#bl4)" transform="rotate(0 806.6 88.1)"/>
<ellipse cx="780.4" cy="19.5" rx="21.5" ry="22.6" fill="none" stroke="#1f88ff" stroke-width="7" opacity="0.92" filter="url(#bl3)"/>
<linearGradient id="hmg1" gradientUnits="userSpaceOnUse" x1="837.5" y1="0" x2="862.7" y2="0"><stop offset="0" stop-color="#fff"/><stop offset="1" stop-color="#fff" stop-opacity="0.3"/></linearGradient>
<mask id="hm1" maskUnits="userSpaceOnUse" x="750.5" y="25.4" width="112.20000000000005" height="215.9"><rect x="750.5" y="25.4" width="112.20000000000005" height="215.9" fill="url(#hmg1)"/></mask>
<g mask="url(#hm1)">
<path d="M857.0,119.9C857.0,111.9 829.0,104.0 801.1,104.0C773.0,104.0 750.1,110.2 750.1,124.8C750.1,139.3 765.5,145.6 780.9,145.6C815.1,145.6 857.0,128.9 857.0,119.9Z" fill="#ffd9bc" opacity="1" filter="url(#bl2)"/>
</g>
<path d="M844.8,119.7C844.8,113.3 821.4,107.0 798.1,107.0C774.7,107.0 755.5,112.0 755.5,123.6C755.5,135.2 768.4,140.1 781.2,140.1C809.8,140.1 844.8,126.9 844.8,119.7Z" fill="#ffba82" opacity="0.85" filter="url(#bl3)"/>
<path d="M838.5,119.8C838.5,115.0 817.9,110.2 797.3,110.2C776.6,110.2 759.6,113.9 759.6,122.7C759.6,131.5 771.0,135.2 782.4,135.2C807.6,135.2 838.5,125.2 838.5,119.8Z" fill="#ff9438" opacity="1" filter="url(#bl3)"/>
<path d="M822.5,120.8C822.5,118.0 808.9,115.2 795.4,115.2C781.8,115.2 770.6,117.4 770.6,122.4C770.6,127.5 778.1,129.7 785.6,129.7C802.2,129.7 822.5,123.9 822.5,120.8Z" fill="#ff8a24" opacity="0.95" filter="url(#bl4)"/>
<rect x="855.7" y="25.4" width="9" height="215.9" fill="#10305a" opacity="0.22" filter="url(#bl2)"/>
</g>
<text x="798.7" y="128.5" font-size="13.5" text-anchor="middle" fill="#ffedc8" >Co-O</text>
<text x="751.7" y="237.0" font-size="13.5" text-anchor="start" fill="#d6e8f7" >PBSCF</text>
<line x1="750.5" y1="25.1" x2="862.7" y2="25.1" stroke="#1a1a1a" stroke-width="1.2" />
<line x1="750.3" y1="25.4" x2="750.3" y2="241.3" stroke="#111" stroke-width="1.0" />
<line x1="862.9" y1="25.4" x2="862.9" y2="241.3" stroke="#111" stroke-width="0.9" />
<line x1="746.5" y1="166.1" x2="750.5" y2="166.1" stroke="#1a1a1a" stroke-width="1.2" />
<text x="743.5" y="170.6" font-size="12.5" text-anchor="end" fill="#111" >1</text>
<line x1="746.5" y1="72.1" x2="750.5" y2="72.1" stroke="#1a1a1a" stroke-width="1.2" />
<text x="743.5" y="76.6" font-size="12.5" text-anchor="end" fill="#111" >2</text>
<line x1="748.0" y1="213.1" x2="750.5" y2="213.1" stroke="#1a1a1a" stroke-width="1.0" />
<line x1="748.0" y1="119.1" x2="750.5" y2="119.1" stroke="#1a1a1a" stroke-width="1.0" />
<line x1="750.5" y1="241.3" x2="750.5" y2="245.3" stroke="#1a1a1a" stroke-width="1.2" />
<text x="750.5" y="258.8" font-size="12.5" text-anchor="middle" fill="#111" >0</text>
<line x1="787.9" y1="241.3" x2="787.9" y2="245.3" stroke="#1a1a1a" stroke-width="1.2" />
<text x="787.9" y="258.8" font-size="12.5" text-anchor="middle" fill="#111" >4</text>
<line x1="825.3" y1="241.3" x2="825.3" y2="245.3" stroke="#1a1a1a" stroke-width="1.2" />
<text x="825.3" y="258.8" font-size="12.5" text-anchor="middle" fill="#111" >8</text>
<line x1="862.7" y1="241.3" x2="862.7" y2="245.3" stroke="#1a1a1a" stroke-width="1.2" />
<text x="862.7" y="258.8" font-size="12.5" text-anchor="middle" fill="#111" >12</text>
<line x1="769.2" y1="241.3" x2="769.2" y2="243.8" stroke="#1a1a1a" stroke-width="1.0" />
<line x1="806.6" y1="241.3" x2="806.6" y2="243.8" stroke="#1a1a1a" stroke-width="1.0" />
<line x1="844.0" y1="241.3" x2="844.0" y2="243.8" stroke="#1a1a1a" stroke-width="1.0" />
<text x="806.6" y="275.3" font-size="13.8" text-anchor="middle" fill="#111">k (Å<tspan font-size="9" dy="-5.5">-1</tspan><tspan dy="5.5">)</tspan></text>
<text transform="translate(739.0,131.8) rotate(-90)" font-size="13.6" text-anchor="middle" fill="#111">R (Å)</text>
<text x="727.0" y="35.0" font-size="32" text-anchor="start" fill="#111" >c</text>
<linearGradient id="hg2" x1="0" y1="0" x2="0" y2="1"><stop offset="-0.0014" stop-color="#0f6ae8"/><stop offset="0.1728" stop-color="#0d5ed4"/><stop offset="0.2816" stop-color="#0d62da"/><stop offset="0.5211" stop-color="#1070ee"/><stop offset="0.6082" stop-color="#127af7"/><stop offset="0.6343" stop-color="#1472ea"/><stop offset="0.6582" stop-color="#185fba"/><stop offset="0.6822" stop-color="#1c4e8a"/><stop offset="0.7083" stop-color="#1d4571"/><stop offset="0.7823" stop-color="#1c3e60"/><stop offset="0.8694" stop-color="#1b3a58"/><stop offset="1.0000" stop-color="#1a3651"/></linearGradient>
<clipPath id="hc2"><rect x="896.1" y="27" width="111.69999999999993" height="215.9"/></clipPath>
<g clip-path="url(#hc2)">
<rect x="896.1" y="27" width="111.69999999999993" height="215.9" fill="url(#hg2)"/>
<path d="M1051.5,120.1C1051.5,104.1 1002.0,88.0 952.5,88.0C901.0,88.0 858.8,99.8 858.8,127.3C858.8,154.2 887.1,165.7 915.4,165.7C976.6,165.7 1051.5,136.1 1051.5,120.1Z" fill="#1880fb" opacity="0.9" filter="url(#bl4)"/>
<path d="M1028.3,121.6C1028.3,108.9 989.2,96.3 950.1,96.3C909.4,96.3 876.1,105.6 876.1,127.3C876.1,148.5 898.4,157.6 920.8,157.6C969.1,157.6 1028.3,134.2 1028.3,121.6Z" fill="#0b52c4" opacity="0.95" filter="url(#bl3)"/>
<path d="M1010.8,122.7C1010.8,112.4 979.0,102.1 947.2,102.1C914.1,102.1 887.0,109.6 887.0,127.3C887.0,144.5 905.2,151.9 923.3,151.9C962.7,151.9 1010.8,132.9 1010.8,122.7Z" fill="#1f86ff" opacity="0.95" filter="url(#bl2)"/>
<ellipse cx="979.9" cy="54.9" rx="39.1" ry="39.5" fill="#103f86" opacity="0.55" filter="url(#bl9)" transform="rotate(-20 979.9 54.9)"/>
<ellipse cx="997.6" cy="37.5" rx="14.0" ry="11.3" fill="#17324c" opacity="0.8" filter="url(#bl6)" transform="rotate(0 997.6 37.5)"/>
<ellipse cx="966.8" cy="62.4" rx="20.5" ry="9.4" fill="#17324c" opacity="0.85" filter="url(#bl6)" transform="rotate(0 966.8 62.4)"/>
<ellipse cx="952.6" cy="86.9" rx="17.7" ry="7.0" fill="#17324c" opacity="0.85" filter="url(#bl4)" transform="rotate(0 952.6 86.9)"/>
<ellipse cx="927.7" cy="22.0" rx="30.7" ry="29.1" fill="none" stroke="#1f88ff" stroke-width="8" opacity="0.92" filter="url(#bl3)"/>
<linearGradient id="hmg2" gradientUnits="userSpaceOnUse" x1="982.7" y1="0" x2="1007.8" y2="0"><stop offset="0" stop-color="#fff"/><stop offset="1" stop-color="#fff" stop-opacity="0.3"/></linearGradient>
<mask id="hm2" maskUnits="userSpaceOnUse" x="896.1" y="27" width="111.69999999999993" height="215.9"><rect x="896.1" y="27" width="111.69999999999993" height="215.9" fill="url(#hmg2)"/></mask>
<g mask="url(#hm2)">
<path d="M1000.2,123.4C1000.2,114.7 973.3,106.0 946.5,106.0C918.5,106.0 895.7,112.4 895.7,127.3C895.7,141.9 911.0,148.1 926.3,148.1C959.6,148.1 1000.2,132.0 1000.2,123.4Z" fill="#ffd9bc" opacity="1" filter="url(#bl2)"/>
</g>
<path d="M988.3,123.2C988.3,116.2 965.9,109.3 943.5,109.3C920.2,109.3 901.1,114.4 901.1,126.3C901.1,137.9 913.9,142.8 926.7,142.8C954.4,142.8 988.3,130.1 988.3,123.2Z" fill="#ffba82" opacity="0.85" filter="url(#bl3)"/>
<path d="M982.3,123.3C982.3,118.0 962.5,112.8 942.7,112.8C922.1,112.8 905.2,116.6 905.2,125.6C905.2,134.4 916.5,138.1 927.8,138.1C952.3,138.1 982.3,128.5 982.3,123.3Z" fill="#ff9438" opacity="1" filter="url(#bl3)"/>
<path d="M966.8,124.2C966.8,121.2 953.8,118.1 940.8,118.1C927.2,118.1 916.1,120.4 916.1,125.6C916.1,130.7 923.6,132.9 931.0,132.9C947.1,132.9 966.8,127.3 966.8,124.2Z" fill="#ff8a24" opacity="0.95" filter="url(#bl4)"/>
<rect x="1000.8" y="27" width="9" height="215.9" fill="#10305a" opacity="0.22" filter="url(#bl2)"/>
</g>
<text x="944.5" y="130.6" font-size="13.5" text-anchor="middle" fill="#ffedc8" >Co-O</text>
<text x="897.3" y="238.6" font-size="13.5" text-anchor="start" fill="#d6e8f7" ><tspan font-style="italic">p</tspan>-PBSCF</text>
<line x1="896.1" y1="26.7" x2="1007.8" y2="26.7" stroke="#1a1a1a" stroke-width="1.2" />
<line x1="895.9" y1="27.0" x2="895.9" y2="242.9" stroke="#111" stroke-width="1.0" />
<line x1="1008.0" y1="27.0" x2="1008.0" y2="242.9" stroke="#111" stroke-width="0.9" />
<line x1="892.1" y1="167.7" x2="896.1" y2="167.7" stroke="#1a1a1a" stroke-width="1.2" />
<text x="889.1" y="172.2" font-size="12.5" text-anchor="end" fill="#111" >1</text>
<line x1="892.1" y1="73.7" x2="896.1" y2="73.7" stroke="#1a1a1a" stroke-width="1.2" />
<text x="889.1" y="78.2" font-size="12.5" text-anchor="end" fill="#111" >2</text>
<line x1="893.6" y1="214.7" x2="896.1" y2="214.7" stroke="#1a1a1a" stroke-width="1.0" />
<line x1="893.6" y1="120.7" x2="896.1" y2="120.7" stroke="#1a1a1a" stroke-width="1.0" />
<line x1="896.1" y1="242.9" x2="896.1" y2="246.9" stroke="#1a1a1a" stroke-width="1.2" />
<text x="896.1" y="260.4" font-size="12.5" text-anchor="middle" fill="#111" >0</text>
<line x1="933.3" y1="242.9" x2="933.3" y2="246.9" stroke="#1a1a1a" stroke-width="1.2" />
<text x="933.3" y="260.4" font-size="12.5" text-anchor="middle" fill="#111" >4</text>
<line x1="970.6" y1="242.9" x2="970.6" y2="246.9" stroke="#1a1a1a" stroke-width="1.2" />
<text x="970.6" y="260.4" font-size="12.5" text-anchor="middle" fill="#111" >8</text>
<line x1="1007.8" y1="242.9" x2="1007.8" y2="246.9" stroke="#1a1a1a" stroke-width="1.2" />
<text x="1007.8" y="260.4" font-size="12.5" text-anchor="middle" fill="#111" >12</text>
<line x1="914.7" y1="242.9" x2="914.7" y2="245.4" stroke="#1a1a1a" stroke-width="1.0" />
<line x1="952.0" y1="242.9" x2="952.0" y2="245.4" stroke="#1a1a1a" stroke-width="1.0" />
<line x1="989.2" y1="242.9" x2="989.2" y2="245.4" stroke="#1a1a1a" stroke-width="1.0" />
<text x="952.0" y="276.9" font-size="13.8" text-anchor="middle" fill="#111">k (Å<tspan font-size="9" dy="-5.5">-1</tspan><tspan dy="5.5">)</tspan></text>
<text transform="translate(880.8,135.1) rotate(-90)" font-size="13.6" text-anchor="middle" fill="#111">R (Å)</text>
<text x="875.0" y="35.4" font-size="32" text-anchor="start" fill="#111" >d</text>
<linearGradient id="hg3" x1="0" y1="0" x2="0" y2="1"><stop offset="-0.0028" stop-color="#0f6ae8"/><stop offset="0.1718" stop-color="#0d5ed4"/><stop offset="0.2809" stop-color="#0d62da"/><stop offset="0.5209" stop-color="#1070ee"/><stop offset="0.6082" stop-color="#127af7"/><stop offset="0.6344" stop-color="#1472ea"/><stop offset="0.6584" stop-color="#185fba"/><stop offset="0.6824" stop-color="#1c4e8a"/><stop offset="0.7085" stop-color="#1d4571"/><stop offset="0.7827" stop-color="#1c3e60"/><stop offset="0.8700" stop-color="#1b3a58"/><stop offset="1.0009" stop-color="#1a3651"/></linearGradient>
<clipPath id="hc3"><rect x="1040" y="27" width="112.29999999999995" height="215.4"/></clipPath>
<g clip-path="url(#hc3)">
<rect x="1040" y="27" width="112.29999999999995" height="215.4" fill="url(#hg3)"/>
<path d="M1196.3,118.9C1196.3,103.3 1146.5,87.6 1096.7,87.6C1044.9,87.6 1002.5,99.2 1002.5,126.0C1002.5,154.8 1030.9,167.1 1059.4,167.1C1121.0,167.1 1196.3,135.8 1196.3,118.9Z" fill="#1880fb" opacity="0.9" filter="url(#bl4)"/>
<path d="M1172.9,120.4C1172.9,108.1 1133.6,95.7 1094.3,95.7C1053.4,95.7 1019.9,104.8 1019.9,126.0C1019.9,148.7 1042.3,158.5 1064.8,158.5C1113.4,158.5 1172.9,133.7 1172.9,120.4Z" fill="#0b52c4" opacity="0.95" filter="url(#bl3)"/>
<path d="M1155.3,121.5C1155.3,111.4 1123.3,101.4 1091.4,101.4C1058.1,101.4 1030.8,108.8 1030.8,126.0C1030.8,144.5 1049.1,152.4 1067.4,152.4C1106.9,152.4 1155.3,132.3 1155.3,121.5Z" fill="#1f86ff" opacity="0.95" filter="url(#bl2)"/>
<ellipse cx="1133.6" cy="54.6" rx="33.7" ry="47.0" fill="#103f86" opacity="0.6" filter="url(#bl9)" transform="rotate(-10 1133.6 54.6)"/>
<ellipse cx="1150.4" cy="35.8" rx="11.2" ry="23.5" fill="#17324c" opacity="0.6" filter="url(#bl6)" transform="rotate(0 1150.4 35.8)"/>
<ellipse cx="1124.2" cy="66.8" rx="18.7" ry="8.5" fill="#17324c" opacity="0.85" filter="url(#bl6)" transform="rotate(0 1124.2 66.8)"/>
<ellipse cx="1097.1" cy="85.6" rx="17.8" ry="6.6" fill="#17324c" opacity="0.85" filter="url(#bl4)" transform="rotate(0 1097.1 85.6)"/>
<ellipse cx="1068.1" cy="20.8" rx="28.1" ry="35.7" fill="none" stroke="#1f88ff" stroke-width="9" opacity="0.9" filter="url(#bl4)"/>
<linearGradient id="hmg3" gradientUnits="userSpaceOnUse" x1="1127.0" y1="0" x2="1152.3" y2="0"><stop offset="0" stop-color="#fff"/><stop offset="1" stop-color="#fff" stop-opacity="0.3"/></linearGradient>
<mask id="hm3" maskUnits="userSpaceOnUse" x="1040" y="27" width="112.29999999999995" height="215.4"><rect x="1040" y="27" width="112.29999999999995" height="215.4" fill="url(#hmg3)"/></mask>
<g mask="url(#hm3)">
<path d="M1144.6,122.2C1144.6,113.7 1117.6,105.2 1090.6,105.2C1062.5,105.2 1039.6,111.5 1039.6,126.0C1039.6,141.6 1055.0,148.3 1070.4,148.3C1103.8,148.3 1144.6,131.3 1144.6,122.2Z" fill="#ffd9bc" opacity="1" filter="url(#bl2)"/>
</g>
<path d="M1132.7,121.9C1132.7,115.2 1110.2,108.5 1087.7,108.5C1064.2,108.5 1045.0,113.4 1045.0,125.0C1045.0,137.4 1057.9,142.8 1070.8,142.8C1098.7,142.8 1132.7,129.2 1132.7,121.9Z" fill="#ffba82" opacity="0.85" filter="url(#bl3)"/>
<path d="M1126.7,122.0C1126.7,116.9 1106.7,111.8 1086.8,111.8C1066.1,111.8 1049.1,115.6 1049.1,124.3C1049.1,133.7 1060.5,137.8 1071.9,137.8C1096.5,137.8 1126.7,127.5 1126.7,122.0Z" fill="#ff9438" opacity="1" filter="url(#bl3)"/>
<path d="M1111.1,123.0C1111.1,120.0 1098.0,117.1 1084.9,117.1C1071.3,117.1 1060.1,119.3 1060.1,124.3C1060.1,129.8 1067.6,132.1 1075.1,132.1C1091.3,132.1 1111.1,126.2 1111.1,123.0Z" fill="#ff8a24" opacity="0.95" filter="url(#bl4)"/>
<rect x="1145.3" y="27" width="9" height="215.4" fill="#10305a" opacity="0.22" filter="url(#bl2)"/>
</g>
<text x="1089.6" y="129.8" font-size="13.5" text-anchor="middle" fill="#ffedc8" >Co-O</text>
<text x="1041.2" y="238.1" font-size="13.5" text-anchor="start" fill="#d6e8f7" ><tspan font-style="italic">bs</tspan>-PBSCF</text>
<line x1="1040.0" y1="26.7" x2="1152.3" y2="26.7" stroke="#1a1a1a" stroke-width="1.2" />
<line x1="1039.8" y1="27.0" x2="1039.8" y2="242.4" stroke="#111" stroke-width="1.0" />
<line x1="1152.5" y1="27.0" x2="1152.5" y2="242.4" stroke="#111" stroke-width="0.9" />
<line x1="1036.0" y1="167.4" x2="1040.0" y2="167.4" stroke="#1a1a1a" stroke-width="1.2" />
<text x="1033.0" y="171.9" font-size="12.5" text-anchor="end" fill="#111" >1</text>
<line x1="1036.0" y1="73.4" x2="1040.0" y2="73.4" stroke="#1a1a1a" stroke-width="1.2" />
<text x="1033.0" y="77.9" font-size="12.5" text-anchor="end" fill="#111" >2</text>
<line x1="1037.5" y1="214.4" x2="1040.0" y2="214.4" stroke="#1a1a1a" stroke-width="1.0" />
<line x1="1037.5" y1="120.4" x2="1040.0" y2="120.4" stroke="#1a1a1a" stroke-width="1.0" />
<line x1="1040.0" y1="242.4" x2="1040.0" y2="246.4" stroke="#1a1a1a" stroke-width="1.2" />
<text x="1040.0" y="259.9" font-size="12.5" text-anchor="middle" fill="#111" >0</text>
<line x1="1077.4" y1="242.4" x2="1077.4" y2="246.4" stroke="#1a1a1a" stroke-width="1.2" />
<text x="1077.4" y="259.9" font-size="12.5" text-anchor="middle" fill="#111" >4</text>
<line x1="1114.9" y1="242.4" x2="1114.9" y2="246.4" stroke="#1a1a1a" stroke-width="1.2" />
<text x="1114.9" y="259.9" font-size="12.5" text-anchor="middle" fill="#111" >8</text>
<line x1="1152.3" y1="242.4" x2="1152.3" y2="246.4" stroke="#1a1a1a" stroke-width="1.2" />
<text x="1152.3" y="259.9" font-size="12.5" text-anchor="middle" fill="#111" >12</text>
<line x1="1058.7" y1="242.4" x2="1058.7" y2="244.9" stroke="#1a1a1a" stroke-width="1.0" />
<line x1="1096.2" y1="242.4" x2="1096.2" y2="244.9" stroke="#1a1a1a" stroke-width="1.0" />
<line x1="1133.6" y1="242.4" x2="1133.6" y2="244.9" stroke="#1a1a1a" stroke-width="1.0" />
<text x="1096.2" y="276.4" font-size="13.8" text-anchor="middle" fill="#111">k (Å<tspan font-size="9" dy="-5.5">-1</tspan><tspan dy="5.5">)</tspan></text>
<text transform="translate(1025.8,137.1) rotate(-90)" font-size="13.6" text-anchor="middle" fill="#111">R (Å)</text>
<text x="1016.5" y="35.0" font-size="32" text-anchor="start" fill="#111" >e</text>
<linearGradient id="hg4" x1="0" y1="0" x2="0" y2="1"><stop offset="0.0016" stop-color="#0f6ae8"/><stop offset="0.1749" stop-color="#0d5ed4"/><stop offset="0.2832" stop-color="#0d62da"/><stop offset="0.5215" stop-color="#1070ee"/><stop offset="0.6169" stop-color="#127af7"/><stop offset="0.6602" stop-color="#136ee0"/><stop offset="0.7035" stop-color="#175fba"/><stop offset="0.7468" stop-color="#1b5296"/><stop offset="0.7988" stop-color="#1d4674"/><stop offset="0.8248" stop-color="#1c3f62"/><stop offset="0.9981" stop-color="#1a3651"/></linearGradient>
<clipPath id="hc4"><rect x="751.2" y="301.5" width="112.59999999999991" height="215.79999999999995"/></clipPath>
<g clip-path="url(#hc4)">
<rect x="751.2" y="301.5" width="112.59999999999991" height="215.79999999999995" fill="url(#hg4)"/>
<path d="M904.4,391.1C904.4,371.9 851.8,360.1 799.2,360.1C754.6,360.1 718.1,372.0 718.1,400.0C718.1,431.1 751.6,444.4 785.0,444.4C838.7,444.4 904.4,420.5 904.4,391.1Z" fill="#1880fb" opacity="0.9" filter="url(#bl4)"/>
<path d="M882.1,393.0C882.1,377.8 840.6,368.5 799.1,368.5C763.8,368.5 735.0,377.9 735.0,400.0C735.0,424.6 761.4,435.1 787.8,435.1C830.2,435.1 882.1,416.2 882.1,393.0Z" fill="#0b52c4" opacity="0.95" filter="url(#bl3)"/>
<path d="M865.2,394.3C865.2,381.9 831.5,374.4 797.7,374.4C769.1,374.4 745.6,382.1 745.6,400.0C745.6,420.0 767.1,428.5 788.5,428.5C823.1,428.5 865.2,413.1 865.2,394.3Z" fill="#1f86ff" opacity="0.95" filter="url(#bl2)"/>
<ellipse cx="821.6" cy="343.9" rx="42.2" ry="28.1" fill="#103f86" opacity="0.5" filter="url(#bl9)" transform="rotate(0 821.6 343.9)"/>
<ellipse cx="841.3" cy="309.3" rx="14.1" ry="8.4" fill="#17324c" opacity="0.8" filter="url(#bl6)" transform="rotate(0 841.3 309.3)"/>
<ellipse cx="815.0" cy="351.9" rx="28.1" ry="11.2" fill="#17324c" opacity="0.9" filter="url(#bl6)" transform="rotate(0 815.0 351.9)"/>
<ellipse cx="784.0" cy="292.5" rx="30.0" ry="37.4" fill="none" stroke="#1f88ff" stroke-width="9" opacity="0.9" filter="url(#bl4)"/>
<linearGradient id="hmg4" gradientUnits="userSpaceOnUse" x1="838.5" y1="0" x2="863.8" y2="0"><stop offset="0" stop-color="#fff"/><stop offset="1" stop-color="#fff" stop-opacity="0.3"/></linearGradient>
<mask id="hm4" maskUnits="userSpaceOnUse" x="751.2" y="301.5" width="112.59999999999991" height="215.79999999999995"><rect x="751.2" y="301.5" width="112.59999999999991" height="215.79999999999995" fill="url(#hmg4)"/></mask>
<g mask="url(#hm4)">
<path d="M855.1,395.2C855.1,384.8 826.6,378.4 798.1,378.4C773.9,378.4 754.1,384.9 754.1,400.0C754.1,416.9 772.2,424.1 790.3,424.1C819.5,424.1 855.1,411.1 855.1,395.2Z" fill="#ffd9bc" opacity="1" filter="url(#bl2)"/>
</g>
<path d="M843.6,395.2C843.6,386.9 819.8,381.8 796.0,381.8C775.8,381.8 759.3,386.9 759.3,399.0C759.3,412.4 774.4,418.2 789.6,418.2C813.9,418.2 843.6,407.8 843.6,395.2Z" fill="#ffc090" opacity="0.85" filter="url(#bl3)"/>
<path d="M835.7,395.5C835.7,389.5 815.8,385.7 795.8,385.7C778.9,385.7 765.1,389.5 765.1,398.3C765.1,408.2 777.8,412.4 790.4,412.4C810.8,412.4 835.7,404.8 835.7,395.5Z" fill="#ffa050" opacity="1" filter="url(#bl3)"/>
<path d="M823.0,396.7C823.0,393.0 809.1,390.8 795.3,390.8C783.6,390.8 774.0,393.0 774.0,398.3C774.0,404.2 782.8,406.8 791.5,406.8C805.7,406.8 823.0,402.2 823.0,396.7Z" fill="#ff9030" opacity="0.95" filter="url(#bl4)"/>
<rect x="856.8" y="301.5" width="9" height="215.79999999999995" fill="#10305a" opacity="0.22" filter="url(#bl2)"/>
</g>
<text x="800.0" y="403.3" font-size="13.5" text-anchor="middle" fill="#ffedc8" >Fe-O</text>
<text x="752.4" y="513.0" font-size="13.5" text-anchor="start" fill="#d6e8f7" >PBSCF</text>
<line x1="751.2" y1="301.2" x2="863.8" y2="301.2" stroke="#1a1a1a" stroke-width="1.2" />
<line x1="751.0" y1="301.5" x2="751.0" y2="517.3" stroke="#111" stroke-width="1.0" />
<line x1="864.0" y1="301.5" x2="864.0" y2="517.3" stroke="#111" stroke-width="0.9" />
<line x1="747.2" y1="442.1" x2="751.2" y2="442.1" stroke="#1a1a1a" stroke-width="1.2" />
<text x="744.2" y="446.6" font-size="12.5" text-anchor="end" fill="#111" >1</text>
<line x1="747.2" y1="348.6" x2="751.2" y2="348.6" stroke="#1a1a1a" stroke-width="1.2" />
<text x="744.2" y="353.1" font-size="12.5" text-anchor="end" fill="#111" >2</text>
<line x1="748.7" y1="488.9" x2="751.2" y2="488.9" stroke="#1a1a1a" stroke-width="1.0" />
<line x1="748.7" y1="395.4" x2="751.2" y2="395.4" stroke="#1a1a1a" stroke-width="1.0" />
<line x1="751.2" y1="517.3" x2="751.2" y2="521.3" stroke="#1a1a1a" stroke-width="1.2" />
<text x="751.2" y="534.8" font-size="12.5" text-anchor="middle" fill="#111" >0</text>
<line x1="788.7" y1="517.3" x2="788.7" y2="521.3" stroke="#1a1a1a" stroke-width="1.2" />
<text x="788.7" y="534.8" font-size="12.5" text-anchor="middle" fill="#111" >4</text>
<line x1="826.3" y1="517.3" x2="826.3" y2="521.3" stroke="#1a1a1a" stroke-width="1.2" />
<text x="826.3" y="534.8" font-size="12.5" text-anchor="middle" fill="#111" >8</text>
<line x1="863.8" y1="517.3" x2="863.8" y2="521.3" stroke="#1a1a1a" stroke-width="1.2" />
<text x="863.8" y="534.8" font-size="12.5" text-anchor="middle" fill="#111" >12</text>
<line x1="770.0" y1="517.3" x2="770.0" y2="519.8" stroke="#1a1a1a" stroke-width="1.0" />
<line x1="807.5" y1="517.3" x2="807.5" y2="519.8" stroke="#1a1a1a" stroke-width="1.0" />
<line x1="845.0" y1="517.3" x2="845.0" y2="519.8" stroke="#1a1a1a" stroke-width="1.0" />
<text x="807.5" y="551.3" font-size="13.8" text-anchor="middle" fill="#111">k (Å<tspan font-size="9" dy="-5.5">-1</tspan><tspan dy="5.5">)</tspan></text>
<text transform="translate(739.7,411.0) rotate(-90)" font-size="13.6" text-anchor="middle" fill="#111">R (Å)</text>
<text x="728.0" y="312.0" font-size="32" text-anchor="start" fill="#111" >h</text>
<linearGradient id="hg5" x1="0" y1="0" x2="0" y2="1"><stop offset="0.0016" stop-color="#0f6ae8"/><stop offset="0.1749" stop-color="#0d5ed4"/><stop offset="0.2832" stop-color="#0d62da"/><stop offset="0.5215" stop-color="#1070ee"/><stop offset="0.6299" stop-color="#1276f0"/><stop offset="0.6689" stop-color="#1563c6"/><stop offset="0.7122" stop-color="#1b5296"/><stop offset="0.7468" stop-color="#1d4878"/><stop offset="0.7642" stop-color="#1c4066"/><stop offset="0.9981" stop-color="#1a3651"/></linearGradient>
<clipPath id="hc5"><rect x="896.4" y="301.5" width="111.80000000000007" height="215.79999999999995"/></clipPath>
<g clip-path="url(#hc5)">
<rect x="896.4" y="301.5" width="111.80000000000007" height="215.79999999999995" fill="url(#hg5)"/>
<path d="M1039.7,393.8C1039.7,378.3 991.9,368.9 944.1,368.9C901.3,368.9 866.2,377.9 866.2,399.1C866.2,421.5 901.6,431.1 937.0,431.1C983.2,431.1 1039.7,414.3 1039.7,393.8Z" fill="#1880fb" opacity="0.9" filter="url(#bl4)"/>
<path d="M1019.4,394.9C1019.4,382.7 981.6,375.2 943.9,375.2C910.1,375.2 882.4,382.4 882.4,399.1C882.4,416.8 910.4,424.3 938.3,424.3C974.8,424.3 1019.4,411.1 1019.4,394.9Z" fill="#0b52c4" opacity="0.9" filter="url(#bl3)"/>
<path d="M1004.0,395.7C1004.0,385.8 973.3,379.7 942.6,379.7C915.1,379.7 892.6,385.5 892.6,399.1C892.6,413.5 915.3,419.6 938.0,419.6C967.7,419.6 1004.0,408.8 1004.0,395.7Z" fill="#1f86ff" opacity="0.8" filter="url(#bl3)"/>
<ellipse cx="972.8" cy="337.4" rx="51.2" ry="30.9" fill="#123c74" opacity="0.85" filter="url(#bl9)" transform="rotate(-10 972.8 337.4)"/>
<ellipse cx="989.6" cy="329.9" rx="28.0" ry="18.7" fill="#17324c" opacity="0.85" filter="url(#bl6)" transform="rotate(0 989.6 329.9)"/>
<ellipse cx="1001.7" cy="313.1" rx="14.9" ry="15.0" fill="#17324c" opacity="0.6" filter="url(#bl6)" transform="rotate(0 1001.7 313.1)"/>
<ellipse cx="948.6" cy="355.1" rx="20.5" ry="5.6" fill="#17324c" opacity="0.85" filter="url(#bl4)" transform="rotate(0 948.6 355.1)"/>
<ellipse cx="919.7" cy="283.1" rx="31.7" ry="39.3" fill="none" stroke="#1f88ff" stroke-width="9" opacity="0.85" filter="url(#bl4)"/>
<linearGradient id="hmg5" gradientUnits="userSpaceOnUse" x1="983.0" y1="0" x2="1008.2" y2="0"><stop offset="0" stop-color="#fff"/><stop offset="1" stop-color="#fff" stop-opacity="0.3"/></linearGradient>
<mask id="hm5" maskUnits="userSpaceOnUse" x="896.4" y="301.5" width="111.80000000000007" height="215.79999999999995"><rect x="896.4" y="301.5" width="111.80000000000007" height="215.79999999999995" fill="url(#hmg5)"/></mask>
<g mask="url(#hm5)">
<path d="M993.3,396.3C993.3,388.2 968.1,383.2 943.0,383.2C920.4,383.2 902.0,388.0 902.0,399.1C902.0,410.9 920.6,415.9 939.3,415.9C963.6,415.9 993.3,407.1 993.3,396.3Z" fill="#cfaeb4" opacity="0.8" filter="url(#bl4)"/>
</g>
<path d="M981.7,396.9C981.7,390.6 961.6,386.7 941.5,386.7C923.5,386.7 908.7,390.4 908.7,399.1C908.7,408.3 923.6,412.2 938.5,412.2C958.0,412.2 981.7,405.3 981.7,396.9Z" fill="#f2c0aa" opacity="0.9" filter="url(#bl3)"/>
<path d="M969.2,396.6C969.2,392.1 954.6,389.4 940.0,389.4C927.0,389.4 916.3,392.0 916.3,398.2C916.3,404.6 927.1,407.4 937.9,407.4C952.0,407.4 969.2,402.6 969.2,396.6Z" fill="#ffc8a4" opacity="1" filter="url(#bl3)"/>
<rect x="1001.2" y="301.5" width="9" height="215.79999999999995" fill="#10305a" opacity="0.22" filter="url(#bl2)"/>
</g>
<text x="948.1" y="402.8" font-size="13.5" text-anchor="middle" fill="#fff3e4" >Fe-O</text>
<text x="897.6" y="513.0" font-size="13.5" text-anchor="start" fill="#d6e8f7" ><tspan font-style="italic">p</tspan>-PBSCF</text>
<line x1="896.4" y1="301.2" x2="1008.2" y2="301.2" stroke="#1a1a1a" stroke-width="1.2" />
<line x1="896.2" y1="301.5" x2="896.2" y2="517.3" stroke="#111" stroke-width="1.0" />
<line x1="1008.4" y1="301.5" x2="1008.4" y2="517.3" stroke="#111" stroke-width="0.9" />
<line x1="892.4" y1="442.1" x2="896.4" y2="442.1" stroke="#1a1a1a" stroke-width="1.2" />
<text x="889.4" y="446.6" font-size="12.5" text-anchor="end" fill="#111" >1</text>
<line x1="892.4" y1="348.6" x2="896.4" y2="348.6" stroke="#1a1a1a" stroke-width="1.2" />
<text x="889.4" y="353.1" font-size="12.5" text-anchor="end" fill="#111" >2</text>
<line x1="893.9" y1="488.9" x2="896.4" y2="488.9" stroke="#1a1a1a" stroke-width="1.0" />
<line x1="893.9" y1="395.4" x2="896.4" y2="395.4" stroke="#1a1a1a" stroke-width="1.0" />
<line x1="896.4" y1="517.3" x2="896.4" y2="521.3" stroke="#1a1a1a" stroke-width="1.2" />
<text x="896.4" y="534.8" font-size="12.5" text-anchor="middle" fill="#111" >0</text>
<line x1="933.7" y1="517.3" x2="933.7" y2="521.3" stroke="#1a1a1a" stroke-width="1.2" />
<text x="933.7" y="534.8" font-size="12.5" text-anchor="middle" fill="#111" >4</text>
<line x1="970.9" y1="517.3" x2="970.9" y2="521.3" stroke="#1a1a1a" stroke-width="1.2" />
<text x="970.9" y="534.8" font-size="12.5" text-anchor="middle" fill="#111" >8</text>
<line x1="1008.2" y1="517.3" x2="1008.2" y2="521.3" stroke="#1a1a1a" stroke-width="1.2" />
<text x="1008.2" y="534.8" font-size="12.5" text-anchor="middle" fill="#111" >12</text>
<line x1="915.0" y1="517.3" x2="915.0" y2="519.8" stroke="#1a1a1a" stroke-width="1.0" />
<line x1="952.3" y1="517.3" x2="952.3" y2="519.8" stroke="#1a1a1a" stroke-width="1.0" />
<line x1="989.6" y1="517.3" x2="989.6" y2="519.8" stroke="#1a1a1a" stroke-width="1.0" />
<text x="952.3" y="551.3" font-size="13.8" text-anchor="middle" fill="#111">k (Å<tspan font-size="9" dy="-5.5">-1</tspan><tspan dy="5.5">)</tspan></text>
<text transform="translate(882.5,414.4) rotate(-90)" font-size="13.6" text-anchor="middle" fill="#111">R (Å)</text>
<text x="881.0" y="312.0" font-size="32" text-anchor="start" fill="#111" >i</text>
<linearGradient id="hg6" x1="0" y1="0" x2="0" y2="1"><stop offset="0.0021" stop-color="#0f6ae8"/><stop offset="0.1750" stop-color="#0d5ed4"/><stop offset="0.2831" stop-color="#0d62da"/><stop offset="0.5208" stop-color="#1070ee"/><stop offset="0.6289" stop-color="#127af7"/><stop offset="0.6851" stop-color="#136ee0"/><stop offset="0.7369" stop-color="#175fba"/><stop offset="0.7888" stop-color="#1b5296"/><stop offset="0.8450" stop-color="#1d4674"/><stop offset="0.8882" stop-color="#1c3f62"/><stop offset="0.9963" stop-color="#1a3651"/></linearGradient>
<clipPath id="hc6"><rect x="1040" y="301.9" width="112.29999999999995" height="216.30000000000007"/></clipPath>
<g clip-path="url(#hc6)">
<rect x="1040" y="301.9" width="112.29999999999995" height="216.30000000000007" fill="url(#hg6)"/>
<path d="M1189.3,392.5C1189.3,372.1 1138.6,359.6 1087.9,359.6C1043.4,359.6 1007.0,371.6 1007.0,399.6C1007.0,428.8 1040.4,441.3 1073.7,441.3C1125.7,441.3 1189.3,419.4 1189.3,392.5Z" fill="#1880fb" opacity="0.9" filter="url(#bl4)"/>
<path d="M1167.7,394.0C1167.7,377.9 1127.7,368.0 1087.7,368.0C1052.6,368.0 1023.9,377.5 1023.9,399.6C1023.9,422.7 1050.2,432.5 1076.5,432.5C1117.6,432.5 1167.7,415.2 1167.7,394.0Z" fill="#0b52c4" opacity="0.95" filter="url(#bl3)"/>
<path d="M1151.5,395.0C1151.5,381.9 1118.9,373.9 1086.4,373.9C1057.8,373.9 1034.4,381.6 1034.4,399.6C1034.4,418.4 1055.8,426.4 1077.2,426.4C1110.6,426.4 1151.5,412.3 1151.5,395.0Z" fill="#1f86ff" opacity="0.95" filter="url(#bl2)"/>
<ellipse cx="1133.6" cy="330.4" rx="31.8" ry="42.1" fill="#113f7c" opacity="0.75" filter="url(#bl9)" transform="rotate(-10 1133.6 330.4)"/>
<ellipse cx="1146.7" cy="309.8" rx="14.0" ry="16.8" fill="#17324c" opacity="0.8" filter="url(#bl6)" transform="rotate(0 1146.7 309.8)"/>
<ellipse cx="1124.2" cy="334.6" rx="16.8" ry="7.5" fill="#17324c" opacity="0.8" filter="url(#bl6)" transform="rotate(0 1124.2 334.6)"/>
<ellipse cx="1085.2" cy="356.6" rx="19.7" ry="6.1" fill="#17324c" opacity="0.85" filter="url(#bl4)" transform="rotate(0 1085.2 356.6)"/>
<ellipse cx="1077.4" cy="293.0" rx="29.9" ry="37.4" fill="none" stroke="#1f88ff" stroke-width="9" opacity="0.9" filter="url(#bl4)"/>
<linearGradient id="hmg6" gradientUnits="userSpaceOnUse" x1="1127.0" y1="0" x2="1152.3" y2="0"><stop offset="0" stop-color="#fff"/><stop offset="1" stop-color="#fff" stop-opacity="0.3"/></linearGradient>
<mask id="hm6" maskUnits="userSpaceOnUse" x="1040" y="301.9" width="112.29999999999995" height="216.30000000000007"><rect x="1040" y="301.9" width="112.29999999999995" height="216.30000000000007" fill="url(#hmg6)"/></mask>
<g mask="url(#hm6)">
<path d="M1141.7,395.7C1141.7,384.7 1114.2,377.9 1086.7,377.9C1062.6,377.9 1042.9,384.4 1042.9,399.6C1042.9,415.4 1061.0,422.2 1079.0,422.2C1107.2,422.2 1141.7,410.3 1141.7,395.7Z" fill="#ffd9bc" opacity="1" filter="url(#bl2)"/>
</g>
<path d="M1130.6,394.8C1130.6,386.0 1107.7,380.7 1084.7,380.7C1064.6,380.7 1048.1,385.8 1048.1,397.9C1048.1,410.5 1063.2,415.9 1078.3,415.9C1101.8,415.9 1130.6,406.4 1130.6,394.8Z" fill="#ffc8a0" opacity="0.85" filter="url(#bl3)"/>
<path d="M1119.8,394.7C1119.8,388.7 1102.2,385.0 1084.6,385.0C1069.2,385.0 1056.5,388.5 1056.5,396.8C1056.5,405.4 1068.1,409.1 1079.7,409.1C1097.7,409.1 1119.8,402.6 1119.8,394.7Z" fill="#ffa860" opacity="1" filter="url(#bl3)"/>
<path d="M1106.5,395.6C1106.5,392.2 1095.3,390.1 1084.1,390.1C1074.3,390.1 1066.3,392.1 1066.3,396.8C1066.3,401.7 1073.6,403.8 1081.0,403.8C1092.5,403.8 1106.5,400.1 1106.5,395.6Z" fill="#ff9c48" opacity="0.95" filter="url(#bl4)"/>
<rect x="1145.3" y="301.9" width="9" height="216.30000000000007" fill="#10305a" opacity="0.22" filter="url(#bl2)"/>
</g>
<text x="1092.4" y="402.4" font-size="13.5" text-anchor="middle" fill="#ffedc8" >Fe-O</text>
<text x="1041.2" y="513.9" font-size="13.5" text-anchor="start" fill="#d6e8f7" ><tspan font-style="italic">bs</tspan>-PBSCF</text>
<line x1="1040.0" y1="301.6" x2="1152.3" y2="301.6" stroke="#1a1a1a" stroke-width="1.2" />
<line x1="1039.8" y1="301.9" x2="1039.8" y2="518.2" stroke="#111" stroke-width="1.0" />
<line x1="1152.5" y1="301.9" x2="1152.5" y2="518.2" stroke="#111" stroke-width="0.9" />
<line x1="1036.0" y1="442.6" x2="1040.0" y2="442.6" stroke="#1a1a1a" stroke-width="1.2" />
<text x="1033.0" y="447.1" font-size="12.5" text-anchor="end" fill="#111" >1</text>
<line x1="1036.0" y1="349.1" x2="1040.0" y2="349.1" stroke="#1a1a1a" stroke-width="1.2" />
<text x="1033.0" y="353.6" font-size="12.5" text-anchor="end" fill="#111" >2</text>
<line x1="1037.5" y1="489.4" x2="1040.0" y2="489.4" stroke="#1a1a1a" stroke-width="1.0" />
<line x1="1037.5" y1="395.9" x2="1040.0" y2="395.9" stroke="#1a1a1a" stroke-width="1.0" />
<line x1="1040.0" y1="518.2" x2="1040.0" y2="522.2" stroke="#1a1a1a" stroke-width="1.2" />
<text x="1040.0" y="535.7" font-size="12.5" text-anchor="middle" fill="#111" >0</text>
<line x1="1077.4" y1="518.2" x2="1077.4" y2="522.2" stroke="#1a1a1a" stroke-width="1.2" />
<text x="1077.4" y="535.7" font-size="12.5" text-anchor="middle" fill="#111" >4</text>
<line x1="1114.9" y1="518.2" x2="1114.9" y2="522.2" stroke="#1a1a1a" stroke-width="1.2" />
<text x="1114.9" y="535.7" font-size="12.5" text-anchor="middle" fill="#111" >8</text>
<line x1="1152.3" y1="518.2" x2="1152.3" y2="522.2" stroke="#1a1a1a" stroke-width="1.2" />
<text x="1152.3" y="535.7" font-size="12.5" text-anchor="middle" fill="#111" >12</text>
<line x1="1058.7" y1="518.2" x2="1058.7" y2="520.7" stroke="#1a1a1a" stroke-width="1.0" />
<line x1="1096.2" y1="518.2" x2="1096.2" y2="520.7" stroke="#1a1a1a" stroke-width="1.0" />
<line x1="1133.6" y1="518.2" x2="1133.6" y2="520.7" stroke="#1a1a1a" stroke-width="1.0" />
<text x="1096.2" y="552.2" font-size="13.8" text-anchor="middle" fill="#111">k (Å<tspan font-size="9" dy="-5.5">-1</tspan><tspan dy="5.5">)</tspan></text>
<text transform="translate(1025.5,414.2) rotate(-90)" font-size="13.6" text-anchor="middle" fill="#111">R (Å)</text>
<text x="1026.5" y="311.0" font-size="32" text-anchor="start" fill="#111" >j</text>
</svg>
<div class="cap just" style="top:568.8px"><b>Figure 4.</b>&nbsp;&nbsp;a) Co K-edge XANES of the standard Co foil, PBSCF, <i>p</i>-PBSCF, and <i>bs</i>-PBSCF samples. b) FT and c–e) WT for the <i>k</i><sup>3</sup>-weighted EXAFS signals</div>
<div class="cap just" style="top:591.7px">of PBSCF, <i>p</i>-PBSCF, and <i>bs</i>-PBSCF samples. f) Fe K-edge XANES of the standard Fe foil, PBSCF, <i>p</i>-PBSCF, and <i>bs</i>-PBSCF samples. g) FT and h–j) WT for</div>
<div class="cap just" style="top:614.1px;width:571px">the <i>k</i><sup>3</sup>-weighted EXAFS signals of PBSCF, <i>p</i>-PBSCF, and <i>bs</i>-PBSCF samples.</div>

</body></html>
